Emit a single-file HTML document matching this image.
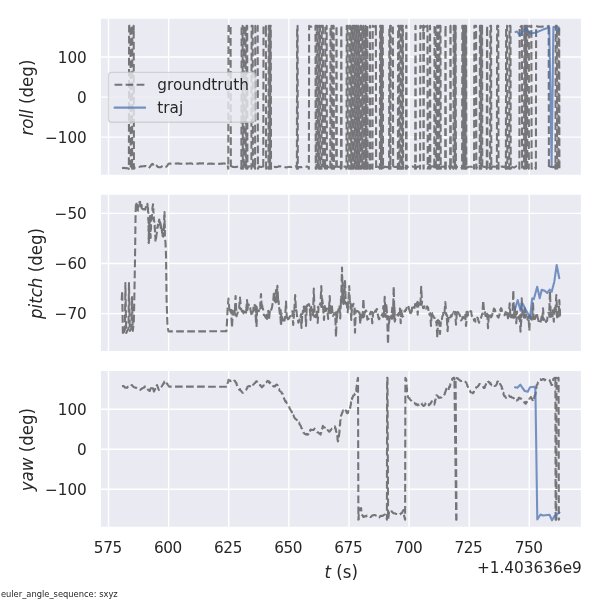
<!DOCTYPE html>
<html lang="en"><head><meta charset="utf-8"><title>evo rpy plot</title>
<style>html,body{margin:0;padding:0;background:#fff;overflow:hidden}svg{display:block;will-change:transform}text{font-family:'DejaVu Sans', 'Liberation Sans', sans-serif}</style></head><body>
<svg width="600" height="600" viewBox="0 0 432 432" version="1.1">
 
 <defs>
  <style type="text/css">*{stroke-linejoin: round; stroke-linecap: butt}</style>
 </defs>
 <g id="figure_1">
  <g id="patch_1">
   <path d="M 0 432 
L 432 432 
L 432 0 
L 0 0 
z
" style="fill: #ffffff"/>
  </g>
  <g id="axes_1">
   <g id="patch_2">
    <path d="M 72.0216 126.4824 
L 418.8744 126.4824 
L 418.8744 12.8376 
L 72.0216 12.8376 
z
" style="fill: #eaeaf2"/>
   </g>
   <g id="matplotlib.axis_1">
    <g id="xtick_1">
     <g id="line2d_1">
      <path d="M 78.119999 126.4824 
L 78.119999 12.8376 
" clip-path="url(#paa7fc9bcef)" style="fill: none; stroke: #ffffff; stroke-linecap: round"/>
     </g>
    </g>
    <g id="xtick_2">
     <g id="line2d_2">
      <path d="M 121.4028 126.4824 
L 121.4028 12.8376 
" clip-path="url(#paa7fc9bcef)" style="fill: none; stroke: #ffffff; stroke-linecap: round"/>
     </g>
    </g>
    <g id="xtick_3">
     <g id="line2d_3">
      <path d="M 164.6856 126.4824 
L 164.6856 12.8376 
" clip-path="url(#paa7fc9bcef)" style="fill: none; stroke: #ffffff; stroke-linecap: round"/>
     </g>
    </g>
    <g id="xtick_4">
     <g id="line2d_4">
      <path d="M 207.9684 126.4824 
L 207.9684 12.8376 
" clip-path="url(#paa7fc9bcef)" style="fill: none; stroke: #ffffff; stroke-linecap: round"/>
     </g>
    </g>
    <g id="xtick_5">
     <g id="line2d_5">
      <path d="M 251.2512 126.4824 
L 251.2512 12.8376 
" clip-path="url(#paa7fc9bcef)" style="fill: none; stroke: #ffffff; stroke-linecap: round"/>
     </g>
    </g>
    <g id="xtick_6">
     <g id="line2d_6">
      <path d="M 294.533999 126.4824 
L 294.533999 12.8376 
" clip-path="url(#paa7fc9bcef)" style="fill: none; stroke: #ffffff; stroke-linecap: round"/>
     </g>
    </g>
    <g id="xtick_7">
     <g id="line2d_7">
      <path d="M 337.8168 126.4824 
L 337.8168 12.8376 
" clip-path="url(#paa7fc9bcef)" style="fill: none; stroke: #ffffff; stroke-linecap: round"/>
     </g>
    </g>
    <g id="xtick_8">
     <g id="line2d_8">
      <path d="M 381.099599 126.4824 
L 381.099599 12.8376 
" clip-path="url(#paa7fc9bcef)" style="fill: none; stroke: #ffffff; stroke-linecap: round"/>
     </g>
    </g>
   </g>
   <g id="matplotlib.axis_2">
    <g id="ytick_1">
     <g id="line2d_9">
      <path d="M 72.0216 98.748 
L 418.8744 98.748 
" clip-path="url(#paa7fc9bcef)" style="fill: none; stroke: #ffffff; stroke-linecap: round"/>
     </g>
     <g id="text_1">
      <text style="font-size: 11px; font-family: 'DejaVu Sans', 'Liberation Sans', sans-serif; text-anchor: end; fill: #262626" x="62.5216" y="102.927141">−100</text>
     </g>
    </g>
    <g id="ytick_2">
     <g id="line2d_10">
      <path d="M 72.0216 69.912 
L 418.8744 69.912 
" clip-path="url(#paa7fc9bcef)" style="fill: none; stroke: #ffffff; stroke-linecap: round"/>
     </g>
     <g id="text_2">
      <text style="font-size: 11px; font-family: 'DejaVu Sans', 'Liberation Sans', sans-serif; text-anchor: end; fill: #262626" x="62.5216" y="74.091141">0</text>
     </g>
    </g>
    <g id="ytick_3">
     <g id="line2d_11">
      <path d="M 72.0216 41.076 
L 418.8744 41.076 
" clip-path="url(#paa7fc9bcef)" style="fill: none; stroke: #ffffff; stroke-linecap: round"/>
     </g>
     <g id="text_3">
      <text style="font-size: 11px; font-family: 'DejaVu Sans', 'Liberation Sans', sans-serif; text-anchor: end; fill: #262626" x="62.5216" y="45.255141">100</text>
     </g>
    </g>
    <g id="text_4">
     <g style="fill: #262626" transform="translate(24.5637 97.5840) rotate(-90) scale(1 1.060)">
      <text x="0" y="-0.875" style="font-size: 12px; font-family: 'DejaVu Sans', 'Liberation Sans', sans-serif; fill: #262626"><tspan style="font-style: oblique">roll</tspan> (deg)</text>
     </g>
    </g>
   </g>
   <g id="line2d_12">
    <path d="M 87.84 121.104 
L 89.28 120.816 
L 89.88 121.063545 
L 90.48 121.15552 
L 91.079999 120.999271 
L 91.68 121.102678 
L 92.28 121.252753 
L 92.7936 121.536 
L 92.9664 18.648 
L 93.9456 18.648 
L 93.9456 19.285899 
L 93.9456 18.648 
L 94.1184 121.536 
L 94.608 120.898329 
L 95.0976 121.536 
L 95.0976 118.399309 
L 95.0976 121.536 
L 95.2704 18.648 
L 96.249599 18.648 
L 96.249599 21.376599 
L 96.249599 18.648 
L 96.4224 121.536 
L 97.052968 120.760582 
L 97.769937 120.762229 
L 98.486905 120.619974 
L 99.203873 120.234518 
L 99.920842 120.220041 
L 100.63781 120.097115 
L 101.354778 119.766187 
L 102.071747 119.911215 
L 102.788715 119.695751 
L 103.505684 119.677042 
L 104.222652 119.534165 
L 104.939621 119.625081 
L 105.656589 120.030865 
L 106.373558 120.625325 
L 107.090526 121.12613 
L 107.807494 120.331728 
L 108.524463 119.23077 
L 109.241431 118.298096 
L 109.958399 117.988404 
L 110.675368 119.348518 
L 111.392336 119.243761 
L 112.109305 118.539026 
L 112.826273 119.246311 
L 113.543242 120.172985 
L 114.26021 120.329399 
L 114.977179 120.440966 
L 115.694147 120.396615 
L 116.411115 119.89665 
L 117.128084 119.274133 
L 117.845052 119.526276 
L 118.562021 120.187414 
L 119.278989 120.142683 
L 119.995957 119.845565 
L 120.712926 118.875 
L 121.429894 117.773721 
L 122.146863 117.947751 
L 122.863831 117.829261 
L 123.5808 117.698467 
L 124.297768 117.696086 
L 125.014737 117.772397 
L 125.731705 117.664737 
L 126.448673 117.662996 
L 127.165642 117.798063 
L 127.88261 117.613683 
L 128.599578 117.784909 
L 129.316547 117.73246 
L 130.033515 117.881721 
L 130.750484 117.898594 
L 131.467453 117.874552 
L 132.184421 117.873726 
L 132.901389 117.737395 
L 133.618358 117.864634 
L 134.335326 117.722815 
L 135.052294 117.823447 
L 135.769263 117.716749 
L 136.486231 117.768303 
L 137.203199 117.60258 
L 137.920168 117.680836 
L 138.637136 117.995732 
L 139.354105 117.675612 
L 140.071074 117.874718 
L 140.788042 117.857006 
L 141.50501 117.888742 
L 142.221979 117.781238 
L 142.938947 117.833759 
L 143.655915 117.604931 
L 144.372884 117.607347 
L 145.089852 117.661958 
L 145.806821 117.641604 
L 146.523789 117.619245 
L 147.240757 117.631855 
L 147.957726 117.815016 
L 148.674694 117.657136 
L 149.391663 117.987308 
L 150.108631 117.870456 
L 150.825599 117.80972 
L 151.542568 117.881502 
L 152.259537 117.689999 
L 152.976505 117.976345 
L 153.693473 117.938531 
L 154.410442 117.88977 
L 155.12741 117.783464 
L 155.844378 117.939789 
L 156.561347 117.897733 
L 157.278315 117.861261 
L 157.995284 117.970837 
L 158.712253 117.849744 
L 159.429221 117.734086 
L 160.146189 117.814829 
L 160.863158 117.660836 
L 161.580126 117.658975 
L 162.297094 117.889489 
L 163.014063 117.915093 
L 163.731031 117.995946 
L 164.361599 121.536 
L 164.361599 120.34308 
L 164.361599 121.536 
L 164.5344 18.648 
L 165.276 19.167694 
L 166.0176 18.648 
L 166.0176 19.177902 
L 166.0176 18.648 
L 166.1904 121.536 
L 166.810909 119.727557 
L 167.517818 120.148487 
L 168.224727 120.211578 
L 168.931636 120.204597 
L 169.638545 120.315426 
L 170.345454 120.155806 
L 171.052363 119.961465 
L 171.759272 119.739987 
L 172.466181 119.916968 
L 173.17309 119.735749 
L 173.7936 121.536 
L 173.7936 118.611581 
L 173.7936 121.536 
L 173.9664 18.648 
L 174.657599 18.648 
L 174.657599 20.350408 
L 174.657599 18.648 
L 174.8304 121.536 
L 175.14 119.697103 
L 175.4496 121.536 
L 175.4496 121.386469 
L 175.4496 121.536 
L 175.6224 18.648 
L 176.7456 18.648 
L 176.7456 22.233933 
L 176.7456 18.648 
L 176.9184 121.536 
L 177.321599 121.536 
L 177.321599 118.738921 
L 177.321599 121.536 
L 177.4944 18.648 
L 177.9696 18.648 
L 177.9696 22.067622 
L 177.9696 18.648 
L 178.1424 121.536 
L 178.6608 119.830743 
L 179.2656 119.760673 
L 179.870399 119.941872 
L 180.4752 120.091442 
L 180.993599 121.536 
L 180.993599 120.544887 
L 180.993599 121.536 
L 181.166399 18.648 
L 181.9296 18.648 
L 181.9296 21.431429 
L 181.9296 18.648 
L 182.1024 121.536 
L 182.592 119.7667 
L 183.167999 119.79484 
L 183.657599 121.536 
L 183.657599 120.291115 
L 183.657599 121.536 
L 183.8304 18.648 
L 184.68 19.166674 
L 185.5296 18.648 
L 185.5296 19.65884 
L 185.5296 18.648 
L 185.7024 121.536 
L 186.288 119.926094 
L 186.96 119.985269 
L 187.631999 120.168134 
L 188.304 120.239286 
L 188.976 119.982777 
L 189.561599 121.536 
L 189.561599 117.782724 
L 189.561599 121.536 
L 189.734399 18.648 
L 190.584 19.283083 
L 191.433599 18.648 
L 191.433599 21.348975 
L 191.433599 18.648 
L 191.6064 121.536 
L 192.144 120.076548 
L 192.768 119.809071 
L 193.305599 121.536 
L 193.305599 120.376899 
L 193.305599 121.536 
L 193.478399 18.648 
L 193.881599 18.648 
L 193.881599 20.083941 
L 193.881599 18.648 
L 194.054399 121.536 
L 194.4576 121.536 
L 194.4576 118.356122 
L 194.4576 121.536 
L 194.6304 18.648 
L 194.961599 18.648 
L 194.961599 18.955614 
L 194.961599 18.648 
L 195.134399 121.536 
L 195.743999 119.98053 
L 196.44 119.939134 
L 197.135999 120.23713 
L 197.831999 120.12265 
L 198.528 120.33717 
L 199.224 120.25746 
L 199.92 120.228956 
L 200.616 119.690216 
L 201.311999 119.777814 
L 202.007999 119.771553 
L 202.704 120.054942 
L 203.399999 120.002848 
L 204.096 120.141334 
L 204.792 120.256326 
L 205.487999 120.475237 
L 206.184 120.499779 
L 206.88 120.349886 
L 207.576 120.221639 
L 208.271999 120.102405 
L 208.967999 120.292553 
L 209.664 120.227982 
L 210.36 119.809801 
L 211.056 119.78209 
L 211.752 119.966921 
L 212.447999 119.892867 
L 213.144 119.59113 
L 213.7536 121.536 
L 213.7536 118.779634 
L 213.7536 121.536 
L 213.9264 18.648 
L 214.257599 18.648 
L 214.257599 19.449508 
L 214.257599 18.648 
L 214.430399 121.536 
L 215.022 120.204712 
L 215.699999 120.455041 
L 216.378 120.277685 
L 217.055999 120.462346 
L 217.734 120.196205 
L 218.412 120.164386 
L 219.09 119.793721 
L 219.768 120.023407 
L 220.446 119.988958 
L 221.124 119.870845 
L 221.802 120.190507 
L 222.3936 121.536 
L 222.3936 121.424518 
L 222.3936 121.536 
L 222.5664 18.648 
L 223.668 19.274602 
L 224.855999 18.988379 
L 226.044 18.992031 
L 227.145599 18.648 
L 227.145599 19.64538 
L 227.145599 18.648 
L 227.318399 121.536 
L 227.592 120.134539 
L 227.8656 121.536 
L 227.8656 118.695465 
L 227.8656 121.536 
L 228.038399 18.648 
L 228.729599 18.648 
L 228.729599 20.802039 
L 228.729599 18.648 
L 228.9024 121.536 
L 229.248 120.413561 
L 229.5936 121.536 
L 229.5936 120.829006 
L 229.5936 121.536 
L 229.7664 18.648 
L 230.4576 18.648 
L 230.4576 22.158685 
L 230.4576 18.648 
L 230.6304 121.536 
L 231.047999 120.010213 
L 231.4656 121.536 
L 231.4656 118.65708 
L 231.4656 121.536 
L 231.6384 18.648 
L 232.473599 18.648 
L 232.473599 21.25415 
L 232.473599 18.648 
L 232.646399 121.536 
L 233.088 120.345649 
L 233.616 120.152476 
L 234.0576 121.536 
L 234.0576 119.42117 
L 234.0576 121.536 
L 234.2304 18.648 
L 235.209599 18.648 
L 235.209599 20.800928 
L 235.209599 18.648 
L 235.3824 121.536 
L 235.944 119.976304 
L 236.592 120.171387 
L 237.24 119.966645 
L 237.8016 121.536 
L 237.8016 117.649086 
L 237.8016 121.536 
L 237.9744 18.648 
L 238.665599 18.648 
L 238.665599 21.012386 
L 238.665599 18.648 
L 238.838399 121.536 
L 239.184 120.135156 
L 239.529599 121.536 
L 239.529599 119.663806 
L 239.529599 121.536 
L 239.702399 18.648 
L 240.249599 18.648 
L 240.249599 18.764197 
L 240.249599 18.648 
L 240.4224 121.536 
L 240.935999 120.068655 
L 241.536 120.170608 
L 242.049599 121.536 
L 242.049599 120.993574 
L 242.049599 121.536 
L 242.222399 18.648 
L 242.3376 18.648 
L 242.3376 22.515305 
L 242.3376 18.648 
L 242.5104 121.536 
L 243.0576 120.011465 
L 243.6912 120.232966 
L 244.3248 119.949529 
L 244.9584 119.97674 
L 245.505599 121.536 
L 245.505599 119.344132 
L 245.505599 121.536 
L 245.6784 18.648 
L 245.7936 18.648 
L 245.7936 21.833723 
L 245.7936 18.648 
L 245.966399 121.536 
L 246.492 120.089967 
L 247.104 119.884162 
L 247.716 119.897955 
L 248.328 120.085269 
L 248.94 119.957109 
L 249.4656 121.536 
L 249.4656 121.470188 
L 249.4656 121.536 
L 249.6384 18.648 
L 250.185599 18.648 
L 250.185599 20.134861 
L 250.185599 18.648 
L 250.3584 121.536 
L 250.848 120.233608 
L 251.3376 121.536 
L 251.3376 120.653804 
L 251.3376 121.536 
L 251.510399 18.648 
L 252.1296 18.648 
L 252.1296 22.42851 
L 252.1296 18.648 
L 252.3024 121.536 
L 252.612 120.061914 
L 252.9216 121.536 
L 252.9216 120.834675 
L 252.9216 121.536 
L 253.094399 18.648 
L 253.713599 18.648 
L 253.713599 21.582672 
L 253.713599 18.648 
L 253.886399 121.536 
L 254.196 120.056355 
L 254.505599 121.536 
L 254.505599 119.666044 
L 254.505599 121.536 
L 254.6784 18.648 
L 255.297599 18.648 
L 255.297599 20.606795 
L 255.297599 18.648 
L 255.470399 121.536 
L 255.78 119.996672 
L 256.0896 121.536 
L 256.0896 120.072022 
L 256.0896 121.536 
L 256.2624 18.648 
L 256.8816 18.648 
L 256.8816 19.223946 
L 256.8816 18.648 
L 257.054399 121.536 
L 257.364 120.078198 
L 257.673599 121.536 
L 257.673599 118.993276 
L 257.673599 121.536 
L 257.846399 18.648 
L 258.4656 18.648 
L 258.4656 18.69759 
L 258.4656 18.648 
L 258.6384 121.536 
L 258.947999 119.966345 
L 259.257599 121.536 
L 259.257599 119.98819 
L 259.257599 121.536 
L 259.430399 18.648 
L 260.0496 18.648 
L 260.0496 22.44378 
L 260.0496 18.648 
L 260.2224 121.536 
L 260.532 120.170429 
L 260.841599 121.536 
L 260.841599 121.253211 
L 260.841599 121.536 
L 261.0144 18.648 
L 261.633599 18.648 
L 261.633599 21.687691 
L 261.633599 18.648 
L 261.806399 121.536 
L 262.115999 119.910703 
L 262.4256 121.536 
L 262.4256 121.290052 
L 262.4256 121.536 
L 262.5984 18.648 
L 263.217599 18.648 
L 263.217599 19.726848 
L 263.217599 18.648 
L 263.390399 121.536 
L 263.8656 121.536 
L 263.8656 119.460547 
L 263.8656 121.536 
L 264.038399 18.648 
L 264.441599 18.648 
L 264.441599 22.205369 
L 264.441599 18.648 
L 264.614399 121.536 
L 265.104 120.340705 
L 265.679999 120.334368 
L 266.1696 121.536 
L 266.1696 120.77003 
L 266.1696 121.536 
L 266.3424 18.648 
L 266.4576 18.648 
L 266.4576 19.934721 
L 266.4576 18.648 
L 266.6304 121.536 
L 267.119999 120.23502 
L 267.696 120.191467 
L 268.185599 121.536 
L 268.185599 120.206977 
L 268.185599 121.536 
L 268.358399 18.648 
L 269.496 19.280544 
L 270.6336 18.648 
L 270.6336 19.984478 
L 270.6336 18.648 
L 270.8064 121.536 
L 271.296 120.282043 
L 271.871999 119.943294 
L 272.447999 120.300604 
L 273.024 120.219071 
L 273.513599 121.536 
L 273.513599 118.180345 
L 273.513599 121.536 
L 273.6864 18.648 
L 274.1616 18.648 
L 274.1616 22.027883 
L 274.1616 18.648 
L 274.3344 121.536 
L 274.607999 120.219798 
L 274.881599 121.536 
L 274.881599 118.028509 
L 274.881599 121.536 
L 275.054399 18.648 
L 275.6016 18.648 
L 275.6016 21.87697 
L 275.6016 18.648 
L 275.7744 121.536 
L 276.335999 120.269521 
L 276.984 119.982648 
L 277.631999 120.154244 
L 278.28 120.312283 
L 278.927999 120.337573 
L 279.575999 120.033145 
L 280.137599 121.536 
L 280.137599 120.655357 
L 280.137599 121.536 
L 280.3104 18.648 
L 280.8576 18.648 
L 280.8576 19.559054 
L 280.8576 18.648 
L 281.0304 121.536 
L 281.145599 121.536 
L 281.145599 119.724373 
L 281.145599 121.536 
L 281.318399 18.648 
L 282.095999 19.096386 
L 282.8736 18.648 
L 282.8736 19.105867 
L 282.8736 18.648 
L 283.046399 121.536 
L 283.559999 120.253431 
L 284.16 120.124629 
L 284.759999 120.26426 
L 285.36 120.153704 
L 285.96 120.164844 
L 286.473599 121.536 
L 286.473599 119.056107 
L 286.473599 121.536 
L 286.646399 18.648 
L 287.3376 18.648 
L 287.3376 20.662914 
L 287.3376 18.648 
L 287.510399 121.536 
L 287.855999 120.340867 
L 288.2016 121.536 
L 288.2016 119.705136 
L 288.2016 121.536 
L 288.3744 18.648 
L 289.065599 18.648 
L 289.065599 21.658361 
L 289.065599 18.648 
L 289.2384 121.536 
L 289.6416 121.536 
L 289.6416 119.754572 
L 289.6416 121.536 
L 289.8144 18.648 
L 290.073599 18.648 
L 290.073599 19.138334 
L 290.073599 18.648 
L 290.246399 121.536 
L 290.717999 120.322183 
L 291.276 120.291885 
L 291.834 120.132289 
L 292.3056 121.536 
L 292.3056 120.983345 
L 292.3056 121.536 
L 292.4784 18.648 
L 292.593599 18.648 
L 292.593599 19.250578 
L 292.593599 18.648 
L 292.766399 121.536 
L 293.384 119.947811 
L 294.087999 120.220354 
L 294.791999 119.958913 
L 295.496 120.107657 
L 296.199999 119.924621 
L 296.904 119.89446 
L 297.607999 120.11902 
L 298.311999 120.06108 
L 298.9296 121.536 
L 298.9296 117.562297 
L 298.9296 121.536 
L 299.1024 18.648 
L 299.217599 18.648 
L 299.217599 22.375661 
L 299.217599 18.648 
L 299.390399 121.536 
L 299.952 120.174129 
L 300.599999 120.250521 
L 301.247999 119.855843 
L 301.895999 120.085724 
L 302.457599 121.536 
L 302.457599 119.861863 
L 302.457599 121.536 
L 302.630399 18.648 
L 303.696 19.206231 
L 304.7616 18.648 
L 304.7616 22.142421 
L 304.7616 18.648 
L 304.9344 121.536 
L 305.0496 121.536 
L 305.0496 118.013468 
L 305.0496 121.536 
L 305.2224 18.648 
L 306.503999 19.172652 
L 307.7856 18.648 
L 307.7856 20.801525 
L 307.7856 18.648 
L 307.958399 121.536 
L 308.4 119.943269 
L 308.927999 119.973829 
L 309.3696 121.536 
L 309.3696 117.977604 
L 309.3696 121.536 
L 309.542399 18.648 
L 309.657599 18.648 
L 309.657599 22.247239 
L 309.657599 18.648 
L 309.8304 121.536 
L 310.348799 119.767174 
L 310.953599 119.909056 
L 311.558399 119.760538 
L 312.163199 119.769902 
L 312.6816 121.536 
L 312.6816 118.310463 
L 312.6816 121.536 
L 312.8544 18.648 
L 313.617599 18.648 
L 313.617599 22.599368 
L 313.617599 18.648 
L 313.7904 121.536 
L 314.171999 119.783867 
L 314.5536 121.536 
L 314.5536 121.181696 
L 314.5536 121.536 
L 314.7264 18.648 
L 315.4176 18.648 
L 315.4176 19.15875 
L 315.4176 18.648 
L 315.5904 121.536 
L 315.935999 120.028591 
L 316.2816 121.536 
L 316.2816 119.619409 
L 316.2816 121.536 
L 316.4544 18.648 
L 317.145599 18.648 
L 317.145599 21.974191 
L 317.145599 18.648 
L 317.318399 121.536 
L 317.908799 119.853146 
L 318.585599 120.015432 
L 319.262399 119.943831 
L 319.939199 119.985812 
L 320.529599 121.536 
L 320.529599 120.404249 
L 320.529599 121.536 
L 320.702399 18.648 
L 320.8176 18.648 
L 320.8176 21.615784 
L 320.8176 18.648 
L 320.9904 121.536 
L 321.566399 120.148481 
L 322.228799 120.086971 
L 322.8912 119.828417 
L 323.553599 120.008732 
L 324.129599 121.536 
L 324.129599 119.8398 
L 324.129599 121.536 
L 324.3024 18.648 
L 324.4176 18.648 
L 324.4176 19.823899 
L 324.4176 18.648 
L 324.5904 121.536 
L 325.2 119.825192 
L 325.895999 119.946418 
L 326.505599 121.536 
L 326.505599 121.458718 
L 326.505599 121.536 
L 326.6784 18.648 
L 327.225599 18.648 
L 327.225599 19.647434 
L 327.225599 18.648 
L 327.398399 121.536 
L 327.657599 121.536 
L 327.657599 121.29005 
L 327.657599 121.536 
L 327.8304 18.648 
L 328.089599 18.648 
L 328.089599 21.392976 
L 328.089599 18.648 
L 328.2624 121.536 
L 328.834285 120.187133 
L 329.492571 120.123261 
L 330.150856 120.202611 
L 330.809142 120.135445 
L 331.467428 120.314279 
L 332.125714 120.069074 
L 332.697599 121.536 
L 332.697599 121.051817 
L 332.697599 121.536 
L 332.870399 18.648 
L 333.4176 18.648 
L 333.4176 20.969868 
L 333.4176 18.648 
L 333.590399 121.536 
L 333.863999 119.970337 
L 334.137599 121.536 
L 334.137599 121.367623 
L 334.137599 121.536 
L 334.3104 18.648 
L 334.857599 18.648 
L 334.857599 21.137109 
L 334.857599 18.648 
L 335.030399 121.536 
L 335.145599 121.536 
L 335.145599 120.452263 
L 335.145599 121.536 
L 335.318399 18.648 
L 335.5776 18.648 
L 335.5776 22.346726 
L 335.5776 18.648 
L 335.750399 121.536 
L 336.303999 120.413793 
L 336.944 120.408236 
L 337.584 120.070137 
L 338.224 120.039045 
L 338.863999 120.069945 
L 339.504 120.092547 
L 340.144 120.314451 
L 340.783999 120.227212 
L 341.337599 121.536 
L 341.337599 120.133941 
L 341.337599 121.536 
L 341.510399 18.648 
L 342.777599 18.648 
L 342.777599 19.216537 
L 342.777599 18.648 
L 342.950399 121.536 
L 343.512 119.958732 
L 344.159999 120.116748 
L 344.807999 120.370101 
L 345.369599 121.536 
L 345.369599 119.332518 
L 345.369599 121.536 
L 345.542399 18.648 
L 346.0896 18.648 
L 346.0896 19.015585 
L 346.0896 18.648 
L 346.2624 121.536 
L 346.521599 121.536 
L 346.521599 118.853466 
L 346.521599 121.536 
L 346.694399 18.648 
L 347.0976 18.648 
L 347.0976 21.054657 
L 347.0976 18.648 
L 347.2704 121.536 
L 347.860799 119.982728 
L 348.5376 120.286475 
L 349.214399 120.06304 
L 349.8912 120.138333 
L 350.481599 121.536 
L 350.481599 119.859412 
L 350.481599 121.536 
L 350.654399 18.648 
L 350.769599 18.648 
L 350.769599 22.150694 
L 350.769599 18.648 
L 350.9424 121.536 
L 351.552 119.990364 
L 352.248 119.98838 
L 352.857599 121.536 
L 352.857599 117.933084 
L 352.857599 121.536 
L 353.030399 18.648 
L 353.5776 18.648 
L 353.5776 22.398623 
L 353.5776 18.648 
L 353.7504 121.536 
L 354.36 119.820804 
L 355.055999 120.08719 
L 355.751999 119.866076 
L 356.447999 120.043986 
L 357.144 120.041739 
L 357.7536 121.536 
L 357.7536 119.105348 
L 357.7536 121.536 
L 357.9264 18.648 
L 358.7616 18.648 
L 358.7616 19.470802 
L 358.7616 18.648 
L 358.9344 121.536 
L 359.532 119.868398 
L 360.215999 120.072469 
L 360.9 119.945713 
L 361.584 119.875784 
L 362.267999 120.232914 
L 362.951999 119.879412 
L 363.636 120.288641 
L 364.2336 121.536 
L 364.2336 119.772106 
L 364.2336 121.536 
L 364.406399 18.648 
L 365.0976 18.648 
L 365.0976 19.166459 
L 365.0976 18.648 
L 365.2704 121.536 
L 365.711999 120.167508 
L 366.24 120.449871 
L 366.6816 121.536 
L 366.6816 118.993742 
L 366.6816 121.536 
L 366.8544 18.648 
L 367.545599 18.648 
L 367.545599 21.993328 
L 367.545599 18.648 
L 367.7184 121.536 
L 368.343999 120.434648 
L 369.055999 120.336763 
L 369.768 120.586487 
L 370.48 120.535887 
L 371.191999 120.147126 
L 371.903999 119.429984 
L 372.616 119.004823 
L 373.328 119.127142 
L 373.953599 121.536 
L 373.953599 118.105454 
L 373.953599 121.536 
L 374.1264 18.648 
L 374.94 19.164471 
L 375.753599 18.648 
L 375.753599 20.897593 
L 375.753599 18.648 
L 375.926399 121.536 
L 376.368 120.09355 
L 376.895999 120.108098 
L 377.337599 121.536 
L 377.337599 120.529858 
L 377.337599 121.536 
L 377.510399 18.648 
L 378.057599 18.648 
L 378.057599 20.183691 
L 378.057599 18.648 
L 378.230399 121.536 
L 378.503999 120.201998 
L 378.777599 121.536 
L 378.777599 120.045165 
L 378.777599 121.536 
L 378.950399 18.648 
L 379.497599 18.648 
L 379.497599 19.733609 
L 379.497599 18.648 
L 379.670399 121.536 
L 380.231999 120.063218 
L 380.7936 121.536 
L 380.7936 121.123813 
L 380.7936 121.536 
L 380.9664 18.648 
L 381.78 19.286463 
L 382.593599 18.648 
L 382.593599 19.534303 
L 382.593599 18.648 
L 382.766399 121.536 
L 383.327999 120.19883 
L 383.975999 120.309437 
L 384.624 120.279517 
L 385.271999 120.11727 
L 385.8336 121.536 
L 385.8336 118.119356 
L 385.8336 121.536 
L 386.0064 18.648 
L 387.455999 19.196033 
L 388.992 19.218349 
L 390.527999 19.161706 
L 392.064 19.094932 
L 393.599999 19.135954 
L 395.0496 18.648 
L 395.0496 21.646833 
L 395.0496 18.648 
L 395.222399 121.536 
L 395.835428 120.069792 
L 396.534857 120.012912 
L 397.234285 120.244595 
L 397.933713 120.377423 
L 398.633142 120.037318 
L 399.332571 119.987974 
L 399.945599 121.536 
L 399.945599 118.468914 
L 399.945599 121.536 
L 400.1184 18.648 
L 400.953599 18.648 
L 400.953599 19.050701 
L 400.953599 18.648 
L 401.1264 121.536 
L 401.544 120.214432 
L 401.961599 121.536 
L 401.961599 118.034652 
L 401.961599 121.536 
L 402.134399 18.648 
L 402.609599 18.648 
L 402.782399 121.536 
L 403.055999 120.96 
" clip-path="url(#paa7fc9bcef)" style="fill: none; stroke-dasharray: 5.55,2.4; stroke-dashoffset: 0; stroke: #000000; stroke-opacity: 0.5; stroke-width: 1.5"/>
   </g>
   <g id="line2d_13">
    <path d="M 371.159999 23.04 
L 372.239999 22.68 
L 374.399999 25.632 
L 376.199999 23.184 
L 378.719999 20.592 
L 380.52 22.32 
L 382.319999 24.192 
L 385.92 23.4 
L 390.96 21.312 
L 395.495999 19.728 
L 397.151999 119.376 
L 398.447999 19.44 
L 400.32 19.872 
L 402.624 22.032 
" clip-path="url(#paa7fc9bcef)" style="fill: none; stroke: #4c72b0; stroke-opacity: 0.75; stroke-width: 1.5; stroke-linecap: round"/>
   </g>
   <g id="patch_3">
    <path d="M 72.0216 126.4824 
L 72.0216 12.8376 
" style="fill: none; stroke: #ffffff; stroke-width: 1.25; stroke-linejoin: miter; stroke-linecap: square"/>
   </g>
   <g id="patch_4">
    <path d="M 418.8744 126.4824 
L 418.8744 12.8376 
" style="fill: none; stroke: #ffffff; stroke-width: 1.25; stroke-linejoin: miter; stroke-linecap: square"/>
   </g>
   <g id="patch_5">
    <path d="M 72.0216 126.4824 
L 418.8744 126.4824 
" style="fill: none; stroke: #ffffff; stroke-width: 1.25; stroke-linejoin: miter; stroke-linecap: square"/>
   </g>
   <g id="patch_6">
    <path d="M 72.0216 12.8376 
L 418.8744 12.8376 
" style="fill: none; stroke: #ffffff; stroke-width: 1.25; stroke-linejoin: miter; stroke-linecap: square"/>
   </g>
   <g id="legend_1">
    <g id="patch_7">
     <path d="M 80.284 88.043823 
L 181.487438 88.043823 
Q 183.687438 88.043823 183.687438 85.843823 
L 183.687438 54.292 
Q 183.687438 52.092 181.487438 52.092 
L 80.284 52.092 
Q 78.084 52.092 78.084 54.292 
L 78.084 85.843823 
Q 78.084 88.043823 80.284 88.043823 
z
" style="fill: #eaeaf2; opacity: 0.8; stroke: #cccccc; stroke-linejoin: miter"/>
    </g>
    <g id="line2d_14">
     <path d="M 82.484 61.000281 
L 93.484 61.000281 
L 104.484 61.000281 
" style="fill: none; stroke-dasharray: 5.55,2.4; stroke-dashoffset: 0; stroke: #000000; stroke-opacity: 0.5; stroke-width: 1.5"/>
    </g>
    <g id="text_5">
     <text style="font-size: 11px; font-family: 'DejaVu Sans', 'Liberation Sans', sans-serif; text-anchor: start; fill: #262626" x="113.284" y="64.850281">groundtruth</text>
    </g>
    <g id="line2d_15">
     <path d="M 82.484 77.506166 
L 93.484 77.506166 
L 104.484 77.506166 
" style="fill: none; stroke: #4c72b0; stroke-opacity: 0.75; stroke-width: 1.5; stroke-linecap: round"/>
    </g>
    <g id="text_6">
     <text style="font-size: 11px; font-family: 'DejaVu Sans', 'Liberation Sans', sans-serif; text-anchor: start; fill: #262626" x="113.284" y="81.356166">traj</text>
    </g>
   </g>
  </g>
  <g id="axes_2">
   <g id="patch_8">
    <path d="M 72.0216 253.3464 
L 418.8744 253.3464 
L 418.8744 139.6296 
L 72.0216 139.6296 
z
" style="fill: #eaeaf2"/>
   </g>
   <g id="matplotlib.axis_3">
    <g id="xtick_9">
     <g id="line2d_16">
      <path d="M 78.119999 253.3464 
L 78.119999 139.6296 
" clip-path="url(#p0d70362a3d)" style="fill: none; stroke: #ffffff; stroke-linecap: round"/>
     </g>
    </g>
    <g id="xtick_10">
     <g id="line2d_17">
      <path d="M 121.4028 253.3464 
L 121.4028 139.6296 
" clip-path="url(#p0d70362a3d)" style="fill: none; stroke: #ffffff; stroke-linecap: round"/>
     </g>
    </g>
    <g id="xtick_11">
     <g id="line2d_18">
      <path d="M 164.6856 253.3464 
L 164.6856 139.6296 
" clip-path="url(#p0d70362a3d)" style="fill: none; stroke: #ffffff; stroke-linecap: round"/>
     </g>
    </g>
    <g id="xtick_12">
     <g id="line2d_19">
      <path d="M 207.9684 253.3464 
L 207.9684 139.6296 
" clip-path="url(#p0d70362a3d)" style="fill: none; stroke: #ffffff; stroke-linecap: round"/>
     </g>
    </g>
    <g id="xtick_13">
     <g id="line2d_20">
      <path d="M 251.2512 253.3464 
L 251.2512 139.6296 
" clip-path="url(#p0d70362a3d)" style="fill: none; stroke: #ffffff; stroke-linecap: round"/>
     </g>
    </g>
    <g id="xtick_14">
     <g id="line2d_21">
      <path d="M 294.533999 253.3464 
L 294.533999 139.6296 
" clip-path="url(#p0d70362a3d)" style="fill: none; stroke: #ffffff; stroke-linecap: round"/>
     </g>
    </g>
    <g id="xtick_15">
     <g id="line2d_22">
      <path d="M 337.8168 253.3464 
L 337.8168 139.6296 
" clip-path="url(#p0d70362a3d)" style="fill: none; stroke: #ffffff; stroke-linecap: round"/>
     </g>
    </g>
    <g id="xtick_16">
     <g id="line2d_23">
      <path d="M 381.099599 253.3464 
L 381.099599 139.6296 
" clip-path="url(#p0d70362a3d)" style="fill: none; stroke: #ffffff; stroke-linecap: round"/>
     </g>
    </g>
   </g>
   <g id="matplotlib.axis_4">
    <g id="ytick_4">
     <g id="line2d_24">
      <path d="M 72.0216 225.792 
L 418.8744 225.792 
" clip-path="url(#p0d70362a3d)" style="fill: none; stroke: #ffffff; stroke-linecap: round"/>
     </g>
     <g id="text_7">
      <text style="font-size: 11px; font-family: 'DejaVu Sans', 'Liberation Sans', sans-serif; text-anchor: end; fill: #262626" x="62.5216" y="229.971141">−70</text>
     </g>
    </g>
    <g id="ytick_5">
     <g id="line2d_25">
      <path d="M 72.0216 189.72 
L 418.8744 189.72 
" clip-path="url(#p0d70362a3d)" style="fill: none; stroke: #ffffff; stroke-linecap: round"/>
     </g>
     <g id="text_8">
      <text style="font-size: 11px; font-family: 'DejaVu Sans', 'Liberation Sans', sans-serif; text-anchor: end; fill: #262626" x="62.5216" y="193.899141">−60</text>
     </g>
    </g>
    <g id="ytick_6">
     <g id="line2d_26">
      <path d="M 72.0216 153.648 
L 418.8744 153.648 
" clip-path="url(#p0d70362a3d)" style="fill: none; stroke: #ffffff; stroke-linecap: round"/>
     </g>
     <g id="text_9">
      <text style="font-size: 11px; font-family: 'DejaVu Sans', 'Liberation Sans', sans-serif; text-anchor: end; fill: #262626" x="62.5216" y="157.827141">−50</text>
     </g>
    </g>
    <g id="text_10">
     <g style="fill: #262626" transform="translate(31.2744 229.7280) rotate(-90) scale(1 1.060)">
      <text x="0" y="-0.875" style="font-size: 12px; font-family: 'DejaVu Sans', 'Liberation Sans', sans-serif; fill: #262626"><tspan style="font-style: oblique">pitch</tspan> (deg)</text>
     </g>
    </g>
   </g>
   <g id="line2d_27">
    <path d="M 87.624 216 
L 87.984 209.52 
L 88.488 241.2 
L 89.423999 238.32 
L 89.928 237.6 
L 90.288 203.76 
L 90.863999 239.76 
L 91.872 237.6 
L 92.52 236.88 
L 92.88 203.76 
L 93.456 238.32 
L 94.32 236.88 
L 94.68 236.16 
L 95.039999 213.84 
L 95.616 238.32 
L 96.335999 231.84 
L 96.696 216 
L 97.2 187.2 
L 97.632 153.36 
L 97.92 145.44 
L 98.186312 146.169361 
L 98.28653 147.089359 
L 98.285728 146.953922 
L 98.484186 147.276051 
L 98.321982 148.609437 
L 98.609669 148.888406 
L 98.73795 150.787525 
L 98.584437 150.830541 
L 98.626871 151.151238 
L 98.737715 152.708793 
L 99 152.64 
L 99.079869 152.63118 
L 99.308784 151.780202 
L 99.19091 149.806719 
L 99.447696 149.234068 
L 99.598302 148.894975 
L 99.62719 149.013113 
L 99.72 147.6 
L 99.90781 146.295378 
L 99.95696 146.303601 
L 100.268785 145.765975 
L 100.44 144.864 
L 100.395471 145.854533 
L 100.633827 146.070064 
L 100.936076 145.989494 
L 100.872403 145.260406 
L 100.849059 146.163359 
L 100.896638 146.591729 
L 101.152523 147.637415 
L 101.115715 147.156549 
L 101.153139 146.283117 
L 101.274269 146.537741 
L 101.158074 147.813387 
L 101.227732 148.572503 
L 101.308818 147.864094 
L 101.52 148.32 
L 101.915234 147.585368 
L 102.022755 148.025773 
L 102.015583 149.444412 
L 102.036197 150.077098 
L 102.24 149.4 
L 102.412909 149.781721 
L 102.927286 149.094822 
L 103.135237 149.723643 
L 103.058428 150.786944 
L 103.32 150.48 
L 103.740844 150.525703 
L 103.933745 150.698725 
L 104.4 150.84 
L 104.508344 150.427932 
L 104.660292 150.898563 
L 104.859451 149.626254 
L 104.95957 149.331444 
L 105.043288 148.884017 
L 105.154452 148.701262 
L 105.382378 148.381289 
L 105.48 148.32 
L 105.609273 148.465323 
L 105.736677 148.536399 
L 105.796962 147.795538 
L 106.056 146.88 
L 106.070054 147.070549 
L 106.188376 147.652776 
L 106.151359 146.811288 
L 106.12585 146.972 
L 106.252547 148.030732 
L 106.077214 148.802445 
L 106.274764 149.131954 
L 106.471968 149.461434 
L 106.189126 148.959597 
L 106.425334 149.149717 
L 106.602887 149.683116 
L 106.688384 150.32941 
L 106.601389 151.145391 
L 106.601424 150.416234 
L 106.640931 149.990079 
L 106.56 151.2 
L 106.556822 152.034268 
L 106.79956 153.211847 
L 106.767247 152.702104 
L 106.825416 153.676799 
L 106.848 154.8 
L 106.941023 156.07545 
L 106.871884 156.26469 
L 106.719295 156.814446 
L 106.751668 157.582758 
L 106.845366 158.475742 
L 106.741214 158.083887 
L 106.97928 159.37547 
L 106.948113 160.547013 
L 106.927198 161.144172 
L 106.944591 161.979151 
L 107.010287 161.397132 
L 106.910723 163.183258 
L 106.914876 162.76161 
L 106.968208 163.734682 
L 107.030169 164.454677 
L 106.910577 165.066517 
L 106.976787 166.49292 
L 107.187887 166.701539 
L 106.874462 167.525199 
L 107.098133 168.322872 
L 106.988179 167.75804 
L 107.092643 168.511536 
L 107.155108 170.223786 
L 107.038073 171.110717 
L 106.962819 171.759121 
L 107.077124 172.124969 
L 107.189854 173.120946 
L 107.278509 172.280537 
L 106.943169 173.727927 
L 106.958905 174.559133 
L 107.136 174.96 
L 107.167347 174.566437 
L 107.152447 173.284812 
L 107.354228 173.349405 
L 107.033407 171.69577 
L 107.277322 171.337294 
L 107.215439 171.461597 
L 107.21497 171.032742 
L 107.365623 169.783121 
L 107.19019 168.900271 
L 107.418463 169.163509 
L 107.189123 167.150144 
L 107.447807 167.600014 
L 107.232132 166.935711 
L 107.50218 166.054664 
L 107.360112 165.011283 
L 107.388402 164.981037 
L 107.3935 163.503307 
L 107.630791 163.792216 
L 107.661592 162.956723 
L 107.362941 161.164176 
L 107.550984 161.718978 
L 107.687528 160.71416 
L 107.567999 159.84 
L 107.80409 158.568587 
L 107.611769 158.134672 
L 107.696449 157.382533 
L 107.71864 156.762539 
L 107.758718 156.299846 
L 108 155.52 
L 108.175498 156.093078 
L 108.074695 157.017111 
L 108.201016 157.871478 
L 108.176935 157.899985 
L 108.221687 158.321371 
L 108.056873 159.856124 
L 108.045044 160.751637 
L 108.249835 160.269547 
L 108.038068 160.751057 
L 108.279139 161.865332 
L 108.126568 162.416259 
L 108.044362 163.371792 
L 108.099498 164.200035 
L 108.102995 164.778037 
L 108.386397 165.216985 
L 108.403519 165.378614 
L 108.272569 166.898079 
L 108.436231 168.073493 
L 108.288926 168.471026 
L 108.471325 169.094616 
L 108.478424 170.075208 
L 108.323436 170.293272 
L 108.229745 170.600245 
L 108.36 171.36 
L 108.519496 170.81772 
L 108.335988 169.433267 
L 108.346544 168.772142 
L 108.37493 168.517129 
L 108.333905 168.573441 
L 108.491525 167.47902 
L 108.602854 166.126114 
L 108.431313 165.499024 
L 108.784271 164.752014 
L 108.609079 165.307945 
L 108.694954 163.285004 
L 108.83224 163.201105 
L 108.72 162.72 
L 108.672382 161.742093 
L 108.897893 160.547788 
L 108.987591 160.734409 
L 108.910366 159.722812 
L 108.969665 158.361786 
L 109.182211 158.313446 
L 109.34714 157.203304 
L 109.296 156.96 
L 109.322615 156.565248 
L 109.2366 155.410853 
L 109.506972 154.576194 
L 109.439032 154.442544 
L 109.503396 154.256822 
L 109.713557 153.529019 
L 109.605457 151.849166 
L 109.72999 151.566197 
L 109.73009 151.259266 
L 109.934379 150.848268 
L 109.688357 150.34542 
L 109.871999 149.04 
L 110.031744 148.08197 
L 110.146797 147.656343 
L 110.16 147.024 
L 110.217971 147.78577 
L 110.106535 148.10138 
L 110.244864 148.267437 
L 110.384543 149.341659 
L 110.331666 150.973724 
L 110.508468 150.552584 
L 110.376098 151.672835 
L 110.311013 152.677156 
L 110.42055 152.247156 
L 110.594592 153.527615 
L 110.385756 154.251449 
L 110.592 154.8 
L 110.748829 154.777172 
L 110.77216 155.844225 
L 110.753842 156.282313 
L 110.850459 158.375105 
L 110.830305 157.708643 
L 111.087647 159.828988 
L 111.024 159.84 
L 111.092785 161.207079 
L 111.31511 161.651478 
L 111.359277 161.464615 
L 111.436394 162.586377 
L 111.307207 163.53799 
L 111.584697 164.054139 
L 111.375997 164.543049 
L 111.6 165.6 
L 111.550404 166.576745 
L 111.819208 167.008664 
L 111.594377 167.915604 
L 111.583951 167.564082 
L 111.792104 168.726269 
L 111.748444 168.912881 
L 111.786533 170.42044 
L 111.995242 170.158931 
L 111.855259 171.560578 
L 111.921974 172.805581 
L 111.903907 173.025738 
L 111.933227 174.044949 
L 111.96 174.24 
L 112.202497 173.239095 
L 112.232783 173.045133 
L 112.202384 172.560738 
L 112.414219 171.347127 
L 112.465892 171.35112 
L 112.535999 169.92 
L 112.694461 169.413668 
L 112.70903 168.926537 
L 112.994058 167.458234 
L 112.905508 167.314343 
L 112.999987 165.657435 
L 113.184 165.6 
L 113.163144 165.154744 
L 113.367065 164.847341 
L 113.197275 164.159508 
L 113.312793 163.700165 
L 113.30358 163.603934 
L 113.453323 164.07337 
L 113.6267 163.131587 
L 113.553827 163.361004 
L 113.755424 162.763013 
L 113.772172 163.011713 
L 113.546636 162.505548 
L 113.76 161.28 
L 113.769562 160.864161 
L 114.046834 161.060526 
L 113.902973 160.565756 
L 113.964931 159.510691 
L 114.322618 159.313432 
L 114.335947 159.645684 
L 114.505641 159.360227 
L 114.48 158.4 
L 114.422571 158.576272 
L 114.706728 158.095871 
L 114.704539 159.22426 
L 114.854919 159.728304 
L 115.078243 160.857929 
L 114.946133 159.578912 
L 115.2 160.56 
L 115.329297 160.07322 
L 115.287942 160.889672 
L 115.244668 161.452483 
L 115.297028 162.290258 
L 115.502215 161.663527 
L 115.616511 160.925585 
L 115.76766 162.123873 
L 115.753489 162.644237 
L 115.571752 163.044176 
L 115.80305 162.199892 
L 115.80258 163.472097 
L 115.584876 163.947919 
L 115.923306 162.743116 
L 116.033923 163.27139 
L 115.826951 164.305111 
L 115.92 164.16 
L 116.164324 163.755706 
L 116.128648 163.899363 
L 116.219388 165.589253 
L 116.297897 164.467507 
L 116.23279 165.096654 
L 116.630833 164.911141 
L 116.479827 166.346863 
L 116.64 166.32 
L 116.534957 166.361165 
L 116.626904 166.232416 
L 116.684348 167.456955 
L 116.99881 167.591931 
L 116.868445 167.731447 
L 116.977458 168.014039 
L 117.104524 169.495284 
L 117.32132 168.244653 
L 117.039402 169.131103 
L 117.039808 169.961795 
L 117.44158 169.464622 
L 117.36 169.92 
L 117.505719 170.403723 
L 117.495461 170.058533 
L 117.468574 169.715386 
L 117.332605 168.313755 
L 117.471799 167.605937 
L 117.747857 167.038132 
L 117.710122 166.772367 
L 117.645881 167.211301 
L 117.629305 167.088416 
L 117.804596 166.258469 
L 117.925351 165.537106 
L 117.777303 165.624793 
L 117.935999 165.6 
L 117.98332 164.688902 
L 118.05149 163.809305 
L 117.940605 163.055555 
L 118.087448 163.070808 
L 118.022211 161.932742 
L 118.189329 161.548 
L 118.235627 160.702521 
L 118.15821 160.792171 
L 118.011338 159.264407 
L 118.247276 158.469634 
L 118.165806 157.811192 
L 118.362149 158.354956 
L 118.120454 157.719975 
L 118.327507 155.907779 
L 118.176084 156.104682 
L 118.356172 154.984295 
L 118.169634 154.575874 
L 118.419837 153.969455 
L 118.236383 152.978077 
L 118.368 152.64 
L 118.474501 153.242365 
L 118.491179 153.456036 
L 118.476112 155.108383 
L 118.562871 154.979011 
L 118.585607 156.098799 
L 118.376976 155.884728 
L 118.524204 158.00416 
L 118.505589 157.640569 
L 118.431329 158.606763 
L 118.680689 159.17614 
L 118.479702 159.942114 
L 118.433971 160.283925 
L 118.659629 161.902315 
L 118.515126 161.916258 
L 118.720955 162.947284 
L 118.574331 163.999506 
L 118.742149 163.87912 
L 118.506861 165.135391 
L 118.774221 165.540071 
L 118.754863 165.170434 
L 118.702193 167.083244 
L 118.595523 166.715647 
L 118.827026 168.37338 
L 118.649266 168.713799 
L 118.616204 168.988186 
L 118.728 169.92 
L 119.159999 174.96 
L 119.52 183.6 
L 119.952 216 
L 120.599999 234.72 
L 121.319999 238.608 
L 163.008 238.536 
L 163.44 231.84 
L 163.944 220.977355 
L 164.52 214.92 
L 165.096 222.803686 
L 164.435535 222.938473 
L 164.876662 222.074581 
L 165.316581 222.17185 
L 165.541478 221.960873 
L 165.839253 224.279257 
L 166.303097 223.102074 
L 166.789421 223.572008 
L 166.464 224.110554 
L 167.039999 235.8 
L 167.616 223.777924 
L 167.077091 224.576759 
L 167.42878 223.836734 
L 167.697989 224.001159 
L 168.070338 223.946823 
L 168.383696 226.5632 
L 168.972545 224.688539 
L 169.063 225.04255 
L 169.617555 226.969747 
L 169.056 224.901533 
L 169.631999 213.12 
L 170.208 226.463208 
L 169.776473 226.534987 
L 170.320261 227.664273 
L 170.57062 226.451589 
L 171.106699 225.590125 
L 171.216637 223.434104 
L 171.858663 222.675509 
L 172.170354 222.850784 
L 172.518005 222.437578 
L 172.224 220.914355 
L 172.8 214.2 
L 173.375999 221.075987 
L 172.688098 221.539705 
L 173.293895 222.370948 
L 173.611197 222.266034 
L 173.918983 223.358068 
L 174.362885 224.361627 
L 174.693545 222.7776 
L 174.919981 223.152365 
L 175.333351 225.653701 
L 175.550729 224.123537 
L 176.001257 224.460128 
L 176.484985 224.643618 
L 176.799996 224.621462 
L 177.144047 225.156716 
L 177.607739 222.106837 
L 177.263999 223.447176 
L 177.84 216 
L 178.416 222.046538 
L 177.725038 222.151773 
L 178.202981 223.058097 
L 178.522995 219.667222 
L 179.023595 219.225199 
L 179.273761 221.245264 
L 179.644244 220.70969 
L 180.086537 220.769806 
L 180.380914 223.130527 
L 180.859719 225.788506 
L 180.951541 225.928633 
L 181.426296 227.611323 
L 181.75163 224.965825 
L 182.281383 223.937061 
L 182.493413 221.982058 
L 182.831112 218.785326 
L 183.247694 219.512809 
L 183.713179 220.169512 
L 184.03774 220.089416 
L 183.743999 221.15133 
L 184.32 231.84 
L 184.896 221.127412 
L 184.396991 221.895389 
L 184.104 221.404481 
L 184.68 235.44 
L 185.256 220.586215 
L 184.605016 220.975918 
L 185.000716 223.833597 
L 185.273307 224.018518 
L 185.850193 223.936284 
L 185.994259 223.553982 
L 186.3605 224.066455 
L 186.745031 221.262334 
L 187.290617 222.213516 
L 187.585739 222.02756 
L 187.343999 219.44081 
L 187.92 211.68 
L 188.496 221.989059 
L 187.940441 220.124049 
L 188.373803 220.948792 
L 188.780112 219.755005 
L 189.023304 221.683506 
L 189.403853 222.413282 
L 189.584965 224.584523 
L 190.041036 226.824497 
L 190.428291 226.750995 
L 190.838276 227.756514 
L 191.292829 228.633621 
L 191.519048 226.586804 
L 191.909947 227.679791 
L 191.664 227.280308 
L 192.24 229.68 
L 192.816 227.949312 
L 192.158927 226.350654 
L 192.578068 225.629453 
L 192.921216 225.6579 
L 193.332121 224.639076 
L 193.104 223.850661 
L 193.68 230.4 
L 194.256 224.32227 
L 193.575306 224.36679 
L 194.091604 224.745296 
L 194.5432 224.211487 
L 194.774033 224.020742 
L 195.185315 223.246038 
L 195.505487 222.235608 
L 195.798178 221.460886 
L 196.230125 218.882946 
L 196.486742 217.301028 
L 196.876145 216.57257 
L 196.704 216.786715 
L 197.28 210.24 
L 197.855999 216.490344 
L 197.216109 217.301024 
L 197.666272 218.286217 
L 198.035929 216.337934 
L 198.473403 217.729161 
L 198.144 216.857717 
L 198.72 208.8 
L 199.296 217.268376 
L 198.722728 215.92994 
L 199.120741 218.02229 
L 199.517855 215.535306 
L 199.151999 215.188774 
L 199.728 205.776 
L 200.304 217.470698 
L 199.918108 216.917505 
L 200.235033 215.666624 
L 200.609839 216.933705 
L 200.780566 219.248409 
L 201.09611 222.102702 
L 201.024 221.70602 
L 201.599999 227.52 
L 202.176 223.333539 
L 201.623878 223.420836 
L 201.988798 225.489123 
L 201.744 225.381552 
L 202.319999 234.72 
L 202.895999 225.711584 
L 202.273441 226.403392 
L 202.622542 228.091143 
L 202.920753 228.03584 
L 203.382192 229.257244 
L 203.674473 232.051511 
L 204.08326 230.328033 
L 204.579686 230.612195 
L 204.87851 230.774912 
L 205.26162 228.358745 
L 205.418796 228.55925 
L 205.344 228.464228 
L 205.92 217.152 
L 206.495999 228.740591 
L 205.830908 228.25784 
L 206.406303 226.659246 
L 206.580234 227.104006 
L 207.020499 229.179604 
L 207.385401 229.892014 
L 207.764988 229.491852 
L 208.023998 229.336407 
L 208.519814 228.461214 
L 208.695725 227.824891 
L 209.208646 227.534343 
L 209.435472 226.790392 
L 209.759509 226.56595 
L 210.32963 226.176626 
L 210.584825 224.583744 
L 210.896345 224.302482 
L 210.528 224.059101 
L 211.103999 234 
L 211.679999 226.355874 
L 211.381723 226.013325 
L 211.574276 224.288447 
L 212.159006 224.064781 
L 212.522587 225.135766 
L 211.968 222.281772 
L 212.543999 212.4 
L 213.119999 223.481955 
L 212.783936 222.995958 
L 213.084297 223.152905 
L 213.402537 223.282824 
L 213.90658 227.999943 
L 214.067042 229.955281 
L 214.572759 229.939527 
L 214.795819 232.329037 
L 215.166113 231.265692 
L 215.575152 231.364849 
L 215.991263 228.035242 
L 216.486213 228.782547 
L 216.783187 226.15108 
L 216.503999 227.394473 
L 217.079999 236.16 
L 217.656 226.296205 
L 217.162404 226.982204 
L 217.484111 226.49355 
L 217.889807 225.146147 
L 218.155571 223.654402 
L 218.482808 224.985257 
L 218.159999 222.995226 
L 218.736 220.68 
L 219.312 224.289344 
L 218.968309 222.697198 
L 219.316205 223.225184 
L 219.736932 221.966542 
L 220.033944 222.481998 
L 219.743999 220.74397 
L 220.32 234.72 
L 220.895999 220.363588 
L 220.282053 221.414128 
L 220.610127 221.317605 
L 220.981015 220.486357 
L 221.34846 219.393438 
L 221.867764 219.247108 
L 222.155766 219.155194 
L 222.470949 218.93777 
L 222.845692 220.358386 
L 223.142107 220.153489 
L 222.983999 221.035659 
L 223.559999 230.4 
L 224.136 220.923508 
L 223.520411 222.181544 
L 224.033932 222.913144 
L 224.257408 223.343971 
L 224.665078 224.198561 
L 224.891787 224.368724 
L 225.385421 224.675658 
L 225.794365 226.355874 
L 225.36 226.890503 
L 225.936 207.72 
L 226.512 225.698403 
L 226.045634 226.673258 
L 226.308347 228.110399 
L 226.824774 227.4642 
L 227.199782 228.342201 
L 227.607612 226.597254 
L 227.795772 226.35731 
L 228.207488 225.182018 
L 228.600303 223.599555 
L 228.167999 223.720862 
L 228.743999 232.56 
L 229.32 221.691428 
L 228.900887 221.375994 
L 229.189411 220.765247 
L 229.799635 219.534649 
L 229.928555 220.389136 
L 230.398073 218.855944 
L 230.814099 219.768724 
L 231.041349 218.60136 
L 230.76 219.347673 
L 231.335999 205.92 
L 231.911999 220.383408 
L 231.603011 218.909607 
L 231.894564 219.872487 
L 231.408 221.065614 
L 231.984 215.28 
L 232.559999 219.639656 
L 232.133818 219.172189 
L 232.666949 219.862514 
L 232.856216 220.396519 
L 232.704 222.388184 
L 233.28 230.4 
L 233.855999 220.330826 
L 233.232957 221.796705 
L 233.543682 221.882608 
L 233.978301 220.838167 
L 234.390701 221.992753 
L 234.636919 223.857509 
L 235.177627 222.877861 
L 235.388519 222.105248 
L 235.865684 223.006907 
L 236.163366 224.171653 
L 235.728 224.595956 
L 236.303999 229.68 
L 236.88 223.139984 
L 236.402299 224.818285 
L 236.750819 224.202978 
L 237.106374 224.000457 
L 236.808 224.069119 
L 237.384 213.12 
L 237.96 225.661551 
L 237.669967 224.374967 
L 237.984816 225.270988 
L 238.202254 225.220358 
L 238.752201 224.943855 
L 238.32 225.386435 
L 238.895999 219.6 
L 239.472 225.671685 
L 238.897158 226.806256 
L 239.369786 226.760509 
L 239.767497 227.389156 
L 240.165747 226.652967 
L 240.371614 226.688663 
L 240.697523 225.594273 
L 241.294984 226.287205 
L 241.643216 226.450728 
L 241.344 225.552668 
L 241.92 242.64 
L 242.495999 226.041035 
L 242.047821 226.582362 
L 242.209276 226.10357 
L 241.92 224.804456 
L 242.495999 230.4 
L 243.072 224.161507 
L 242.614122 224.92854 
L 243.112031 225.329768 
L 243.377215 224.71347 
L 243.728384 222.589518 
L 244.061492 223.224929 
L 244.513309 221.353078 
L 244.656606 218.869543 
L 244.368 219.143971 
L 244.944 229.32 
L 245.52 216.327484 
L 245.221406 215.043248 
L 245.596748 216.840246 
L 245.795961 216.669339 
L 245.664 215.622859 
L 246.239999 192.6 
L 246.816 217.757949 
L 246.105151 217.297207 
L 246.518024 216.771209 
L 246.239999 216.543107 
L 246.816 203.4 
L 247.392 218.928887 
L 246.873903 217.626014 
L 247.281291 218.026344 
L 247.600489 220.059224 
L 248.062286 219.975625 
L 247.823999 217.260341 
L 248.4 202.32 
L 248.975999 218.685477 
L 248.278955 217.045367 
L 248.740407 218.408741 
L 249.182393 218.014756 
L 249.35819 217.245963 
L 249.908523 219.526424 
L 250.316734 218.11112 
L 249.768 219.849252 
L 250.343999 225 
L 250.92 217.337079 
L 250.593672 219.37707 
L 250.776483 217.147545 
L 251.228499 217.910436 
L 250.848 217.86571 
L 251.423999 205.92 
L 252 219.250358 
L 251.680212 219.16702 
L 252.057473 218.770316 
L 252.321399 218.216362 
L 252.638479 219.551583 
L 252.36 220.79856 
L 252.935999 230.4 
L 253.512 219.502882 
L 253.190354 221.204543 
L 253.518179 220.624538 
L 253.660217 220.292167 
L 254.025884 220.4639 
L 254.49838 218.730291 
L 255.003966 219.705695 
L 255.372591 222.427709 
L 255.023999 224.234754 
L 255.599999 239.544 
L 256.176 223.508464 
L 255.557312 223.687448 
L 255.948619 225.242078 
L 256.45068 224.727398 
L 256.58368 225.979578 
L 256.903904 225.336708 
L 257.377875 223.929646 
L 257.628092 224.326315 
L 258.044259 224.312401 
L 258.456039 225.18246 
L 258.78179 225.027822 
L 259.138078 226.746118 
L 258.84 225.535976 
L 259.415999 233.28 
L 259.992 226.511432 
L 259.518057 226.817183 
L 259.954525 227.756286 
L 260.31636 227.700534 
L 260.625764 227.510768 
L 260.889856 227.610818 
L 261.483705 228.537281 
L 261.072 228.6311 
L 261.647999 215.064 
L 262.224 227.920773 
L 261.63729 226.326621 
L 262.089699 228.077893 
L 262.524585 225.14623 
L 262.760809 224.38805 
L 263.09388 224.606812 
L 263.469786 223.537156 
L 263.819304 223.971285 
L 264.204813 226.411267 
L 264.478735 230.231889 
L 264.855091 229.166918 
L 265.438088 229.583835 
L 265.537288 227.378129 
L 266.128802 226.656422 
L 266.441801 225.650526 
L 266.752173 225.387519 
L 267.053659 224.57988 
L 267.574861 224.92148 
L 267.765074 224.632967 
L 267.48 226.058393 
L 268.056 232.776 
L 268.631999 225.246794 
L 268.155581 225.569835 
L 268.458627 226.083164 
L 268.880796 225.759279 
L 269.23584 226.68287 
L 269.546841 226.461407 
L 270.046612 224.187492 
L 270.261101 223.583823 
L 270.703775 224.464373 
L 271.161965 222.57588 
L 271.433003 222.54705 
L 271.879498 225.619648 
L 272.20096 227.114819 
L 272.397458 228.690006 
L 272.909032 229.867128 
L 273.354522 229.277748 
L 273.526351 228.834876 
L 273.993754 229.140756 
L 274.390065 227.61646 
L 274.648214 227.626775 
L 275.002739 226.549697 
L 275.261287 226.726871 
L 275.675025 227.926913 
L 275.471999 225.849608 
L 276.047999 220.32 
L 276.624 225.72511 
L 276.124925 228.046214 
L 276.414896 226.041892 
L 276.722075 225.802078 
L 276.408 227.33178 
L 276.984 213.624 
L 277.56 226.68924 
L 277.292161 226.413681 
L 277.573823 226.081553 
L 277.868995 228.247456 
L 277.56 227.549442 
L 278.135999 218.376 
L 278.711999 227.207492 
L 278.404173 226.958574 
L 278.516868 227.295086 
L 278.351999 227.684792 
L 278.927999 228.024 
L 279.504 228.199745 
L 278.962097 227.530328 
L 278.783999 228.510693 
L 279.36 247.824 
L 279.935999 227.884823 
L 279.294798 228.616106 
L 279.740081 228.464207 
L 279.504 228.464658 
L 280.079999 232.776 
L 280.655999 228.13456 
L 280.022091 228.089181 
L 280.329229 228.207488 
L 280.807248 227.43574 
L 281.143384 227.420423 
L 281.511334 227.926268 
L 281.877749 227.193159 
L 282.127259 229.54491 
L 281.88 228.081255 
L 282.455999 221.256 
L 283.032 228.411425 
L 282.656341 228.724196 
L 282.93232 228.202013 
L 283.30116 229.833506 
L 282.888 229.648064 
L 283.464 206.424 
L 284.039999 229.501424 
L 283.585812 229.711542 
L 283.319999 229.084411 
L 283.895999 220.32 
L 284.472 229.653215 
L 283.898409 229.490302 
L 284.274792 231.549209 
L 284.768079 229.314009 
L 285.153245 228.162306 
L 285.522833 226.980511 
L 285.810076 226.932654 
L 286.253292 226.831762 
L 286.494592 226.04756 
L 286.968942 227.226383 
L 287.214283 225.28672 
L 287.73462 223.994142 
L 287.856337 223.204859 
L 288.311277 223.125069 
L 287.927999 222.148227 
L 288.504 232.776 
L 289.079999 222.483934 
L 288.838836 224.134607 
L 289.052776 226.034458 
L 289.489829 225.676915 
L 289.734001 228.082733 
L 290.285758 227.569924 
L 290.529235 227.237965 
L 290.926178 226.397826 
L 291.299124 223.930239 
L 291.708397 224.22191 
L 291.914419 223.121579 
L 292.254048 223.457578 
L 292.549375 222.432513 
L 292.969492 221.029624 
L 293.400773 220.816536 
L 293.868916 220.692025 
L 294.017999 219.806804 
L 294.499769 222.497339 
L 294.81412 223.325032 
L 295.288237 225.03795 
L 295.590906 227.056926 
L 295.823409 224.951056 
L 296.408103 224.395294 
L 296.777307 220.572198 
L 296.978394 220.342236 
L 297.394807 219.607863 
L 297.701095 221.453965 
L 297.953372 221.13847 
L 298.478809 221.694916 
L 298.91059 219.443393 
L 299.058356 218.242593 
L 299.422465 217.194393 
L 299.794081 216.719646 
L 300.346736 217.877483 
L 300.671451 217.369543 
L 300.167999 218.279592 
L 300.743999 226.584 
L 301.32 218.148675 
L 301.097291 219.28899 
L 301.413026 219.61715 
L 301.555327 220.345748 
L 302.104956 220.410032 
L 302.379179 219.293194 
L 302.758365 219.203853 
L 303.006514 219.54728 
L 302.687999 219.054866 
L 303.263999 206.424 
L 303.84 217.802929 
L 303.512553 219.427334 
L 303.849353 217.027358 
L 304.33451 219.244855 
L 304.554352 221.651395 
L 304.904386 220.881318 
L 305.137037 221.87419 
L 305.538713 220.661578 
L 305.879416 219.885907 
L 306.22275 220.860527 
L 306.580037 222.170674 
L 307.105362 221.956911 
L 307.5621 220.63376 
L 307.814574 221.100657 
L 308.215144 221.518008 
L 308.52185 223.901675 
L 308.898018 223.637437 
L 309.107752 226.443949 
L 309.482538 226.178681 
L 309.959715 226.654989 
L 309.743999 225.484411 
L 310.32 234.72 
L 310.896 224.984593 
L 310.227435 224.867214 
L 310.685561 224.672542 
L 311.017128 225.049771 
L 311.296964 226.601167 
L 311.845976 227.292952 
L 312.089666 227.578133 
L 312.543072 228.931584 
L 312.849897 228.757644 
L 313.128398 230.123374 
L 313.643084 230.096169 
L 313.938099 231.907587 
L 314.238596 231.741339 
L 314.664737 231.061956 
L 314.28 231.548517 
L 314.855999 243.36 
L 315.431999 230.465499 
L 315.024749 232.463091 
L 315.235762 232.32195 
L 315.590676 231.327931 
L 316.116386 232.56023 
L 316.350552 232.011917 
L 316.224 231.083677 
L 316.8 240.48 
L 317.375999 232.497076 
L 316.851922 233.160575 
L 317.214213 232.518935 
L 317.607189 231.164323 
L 317.891952 229.44741 
L 318.145697 229.847382 
L 318.565194 227.520754 
L 319.049073 226.700684 
L 319.196493 224.609916 
L 319.552999 224.064598 
L 320.055448 224.566618 
L 320.31365 224.067469 
L 320.039999 225.169513 
L 320.615999 217.44 
L 321.191999 225.531034 
L 320.756849 225.423484 
L 321.240944 226.692704 
L 321.551296 226.165608 
L 321.860329 227.624076 
L 322.18194 226.667472 
L 321.695999 228.323024 
L 322.271999 238.536 
L 322.848 228.822116 
L 322.505393 229.194039 
L 322.982278 229.54138 
L 323.145348 228.231994 
L 323.642485 229.260276 
L 323.887974 229.611342 
L 324.284416 228.376234 
L 324.695744 226.958333 
L 325.172094 227.726568 
L 325.308168 226.801593 
L 325.843387 226.037592 
L 326.126661 225.673873 
L 326.454467 226.470697 
L 326.774548 224.430387 
L 327.300021 225.200983 
L 327.638828 225.703455 
L 328.022932 224.694461 
L 327.743999 226.20842 
L 328.319999 233.784 
L 328.895999 225.295178 
L 328.375287 225.345627 
L 328.773648 226.701029 
L 329.078795 225.374316 
L 329.373486 225.574858 
L 329.668424 224.691175 
L 330.155054 225.398772 
L 330.355328 225.859933 
L 330.868392 226.267988 
L 331.087741 227.437981 
L 331.561562 227.889062 
L 331.848266 230.678957 
L 332.416656 230.407726 
L 332.637245 229.726332 
L 332.88656 228.696111 
L 333.41683 228.123303 
L 333.818782 229.029563 
L 334.01723 226.918409 
L 334.476387 227.120705 
L 334.872014 227.668495 
L 335.26558 226.225626 
L 334.943999 226.876015 
L 335.52 234.72 
L 336.096 227.88797 
L 335.613001 227.830474 
L 335.758472 226.709132 
L 336.267584 226.605533 
L 335.88 225.1613 
L 336.455999 222.696 
L 337.032 227.017331 
L 336.669782 226.241991 
L 336.858941 225.199624 
L 337.178934 225.874031 
L 337.738355 225.917397 
L 338.047922 225.050847 
L 338.458863 225.117949 
L 338.785372 223.984811 
L 339.257635 224.179208 
L 339.525761 226.645224 
L 339.812087 227.568912 
L 340.332597 228.555826 
L 340.644902 228.137632 
L 340.950951 228.800423 
L 341.320366 230.821815 
L 341.606961 229.634899 
L 342.116132 229.991724 
L 342.301802 231.652263 
L 342.848682 230.88813 
L 342.971635 230.128807 
L 343.415888 228.849425 
L 343.73697 228.656404 
L 344.074188 229.428839 
L 344.39219 230.596857 
L 344.882344 232.369525 
L 345.15139 231.261822 
L 345.532082 229.282075 
L 346.084563 228.829332 
L 346.41865 228.85499 
L 346.694896 227.764844 
L 347.162762 226.079413 
L 347.287952 225.691959 
L 347.70146 226.091973 
L 347.327999 226.08087 
L 347.903999 216.36 
L 348.48 223.878099 
L 348.10978 223.97197 
L 348.474369 223.579753 
L 348.789324 224.069232 
L 349.174182 224.821997 
L 349.61093 227.503591 
L 350.030882 226.730583 
L 350.166379 227.432861 
L 350.650917 225.835371 
L 351.04081 227.250983 
L 350.783999 225.999466 
L 351.36 236.376 
L 351.936 227.012867 
L 351.312139 227.12208 
L 351.742598 227.24238 
L 352.010902 226.966773 
L 352.379284 226.317275 
L 352.908823 227.096017 
L 353.254538 227.393038 
L 353.552545 228.513619 
L 353.799942 227.988359 
L 354.274965 227.225749 
L 354.738497 224.587291 
L 355.075861 223.171794 
L 355.28942 224.107776 
L 355.585221 222.176401 
L 356.157801 222.695069 
L 356.407223 223.121361 
L 356.760439 224.469719 
L 357.254456 224.974424 
L 357.620512 225.602342 
L 357.728218 226.721583 
L 358.22262 227.772414 
L 358.582428 228.424462 
L 358.935826 228.734872 
L 359.282895 227.370624 
L 359.645256 226.583408 
L 359.989872 223.171589 
L 360.410825 223.786219 
L 360.615718 221.907926 
L 361.051131 222.201843 
L 361.516349 224.236119 
L 361.791227 225.208532 
L 362.275857 225.482331 
L 362.566521 226.31774 
L 362.95635 226.43295 
L 363.236204 226.854723 
L 363.683533 225.944223 
L 364.066903 224.666651 
L 364.29264 226.470035 
L 364.772593 227.644523 
L 365.002593 226.726345 
L 365.382952 225.721196 
L 365.184 225.385221 
L 365.759999 229.176 
L 366.335999 226.93737 
L 365.815518 227.63342 
L 366.20744 227.871005 
L 366.4655 225.717545 
L 366.851222 226.859618 
L 366.408 225.395368 
L 366.984 218.376 
L 367.559999 228.914892 
L 367.232274 228.706892 
L 367.560982 226.01457 
L 367.856365 228.31816 
L 368.401864 228.300789 
L 368.75865 229.412064 
L 368.932152 226.600519 
L 369.408376 228.720564 
L 369 227.775829 
L 369.575999 208.8 
L 370.151999 228.728699 
L 369.855308 226.184186 
L 370.073759 225.711475 
L 370.391315 225.429324 
L 370.007999 227.978332 
L 370.584 220.824 
L 371.159999 227.29371 
L 370.860183 226.915993 
L 371.021985 225.487391 
L 371.50778 225.134517 
L 371.159999 227.569801 
L 371.736 232.776 
L 372.311999 224.384984 
L 371.830216 226.2267 
L 372.225675 224.982616 
L 372.730091 226.32797 
L 372.852015 228.061188 
L 373.189466 228.157889 
L 373.820168 229.671435 
L 374.045426 228.370626 
L 374.419903 230.415068 
L 374.183999 227.264613 
L 374.759999 238.824 
L 375.335999 230.00632 
L 374.792661 227.14193 
L 375.205815 228.602397 
L 375.571738 226.356336 
L 375.048 226.56342 
L 375.623999 214.776 
L 376.199999 228.888097 
L 375.965956 228.72699 
L 376.062586 225.946784 
L 376.692711 226.526754 
L 376.911039 224.5119 
L 377.281653 227.31835 
L 377.663695 226.175415 
L 377.208 228.658626 
L 377.783999 221.976 
L 378.359999 225.251193 
L 378.106198 225.63378 
L 378.29262 228.724576 
L 378.661255 226.425227 
L 379.003498 229.660949 
L 379.567703 228.990527 
L 379.815248 230.125074 
L 380.204352 228.28329 
L 380.625452 228.896302 
L 380.883974 229.216574 
L 380.52 227.730052 
L 381.096 238.176 
L 381.671999 227.044996 
L 381.301634 228.806742 
L 381.586718 230.269384 
L 382.058021 228.155389 
L 382.304869 229.833971 
L 382.696306 230.084143 
L 382.914491 230.099892 
L 383.330719 227.718988 
L 383.184 228.583223 
L 383.759999 218.376 
L 384.335999 229.767769 
L 383.774233 227.286675 
L 384.082455 227.8436 
L 384.51808 228.177899 
L 384.766374 229.719818 
L 385.162917 229.685131 
L 385.539307 228.055616 
L 385.883985 227.64512 
L 386.416832 226.236266 
L 386.511393 225.078816 
L 386.967576 228.262411 
L 387.329293 229.361747 
L 387.653379 230.539964 
L 387.986213 232.593657 
L 388.482321 232.195699 
L 388.941946 232.586366 
L 389.298987 231.227026 
L 389.647576 230.054572 
L 389.892874 228.069982 
L 390.210737 228.246747 
L 390.500881 228.998005 
L 390.383999 231.161839 
L 390.96 221.976 
L 391.536 229.871304 
L 390.826776 228.253973 
L 391.421809 229.869863 
L 391.566999 229.96379 
L 391.958508 231.991342 
L 392.45082 230.672548 
L 392.825748 231.051702 
L 393.082716 231.819213 
L 393.416892 231.418768 
L 393.926547 231.104857 
L 394.122388 228.606374 
L 394.681389 226.111637 
L 394.828667 225.146915 
L 395.142378 225.295084 
L 395.623627 227.99965 
L 395.423999 225.674172 
L 396 210.024 
L 396.575999 228.126261 
L 395.998506 225.555853 
L 396.321567 227.867202 
L 396.681132 227.152168 
L 397.057042 228.09934 
L 397.556481 225.225266 
L 397.816137 227.732046 
L 398.054486 223.36587 
L 398.652005 225.252179 
L 398.16 224.44246 
L 398.735999 231.624 
L 399.311999 221.770984 
L 398.899882 223.300808 
L 399.158304 223.27028 
L 399.632134 222.620467 
L 400.090588 222.781462 
L 400.396874 222.866821 
L 399.96 223.611823 
L 400.535999 212.4 
L 401.112 223.397286 
L 400.689999 224.062206 
L 400.96257 227.322599 
L 401.47405 229.865651 
L 401.868142 229.45553 
L 402.164464 228.617075 
L 402.505379 225.187094 
L 402.119999 227.788856 
L 402.695999 216 
L 403.271999 226.149015 
L 402.925247 228.270302 
L 403.152409 227.528471 
" clip-path="url(#p0d70362a3d)" style="fill: none; stroke-dasharray: 5.55,2.4; stroke-dashoffset: 0; stroke: #000000; stroke-opacity: 0.5; stroke-width: 1.5"/>
   </g>
   <g id="line2d_28">
    <path d="M 370.799999 222.624 
L 372.743999 216 
L 374.759999 223.776 
L 376.343999 218.664 
L 378.359999 222.624 
L 381.599999 228.6 
L 383.184 214.776 
L 384.335999 215.424 
L 386.783999 206.424 
L 388.584 214.776 
L 390.023999 208.584 
L 392.184 209.376 
L 393.983999 210.96 
L 395.783999 208.584 
L 397.224 210.024 
L 399.095999 202.824 
L 400.823999 190.8 
L 402.695999 200.376 
" clip-path="url(#p0d70362a3d)" style="fill: none; stroke: #4c72b0; stroke-opacity: 0.75; stroke-width: 1.5; stroke-linecap: round"/>
   </g>
   <g id="patch_9">
    <path d="M 72.0216 253.3464 
L 72.0216 139.6296 
" style="fill: none; stroke: #ffffff; stroke-width: 1.25; stroke-linejoin: miter; stroke-linecap: square"/>
   </g>
   <g id="patch_10">
    <path d="M 418.8744 253.3464 
L 418.8744 139.6296 
" style="fill: none; stroke: #ffffff; stroke-width: 1.25; stroke-linejoin: miter; stroke-linecap: square"/>
   </g>
   <g id="patch_11">
    <path d="M 72.0216 253.3464 
L 418.8744 253.3464 
" style="fill: none; stroke: #ffffff; stroke-width: 1.25; stroke-linejoin: miter; stroke-linecap: square"/>
   </g>
   <g id="patch_12">
    <path d="M 72.0216 139.6296 
L 418.8744 139.6296 
" style="fill: none; stroke: #ffffff; stroke-width: 1.25; stroke-linejoin: miter; stroke-linecap: square"/>
   </g>
  </g>
  <g id="axes_3">
   <g id="patch_13">
    <path d="M 72.0216 379.8504 
L 418.8744 379.8504 
L 418.8744 266.4936 
L 72.0216 266.4936 
z
" style="fill: #eaeaf2"/>
   </g>
   <g id="matplotlib.axis_5">
    <g id="xtick_17">
     <g id="line2d_29">
      <path d="M 78.119999 379.8504 
L 78.119999 266.4936 
" clip-path="url(#p6120b2907d)" style="fill: none; stroke: #ffffff; stroke-linecap: round"/>
     </g>
     <g id="text_11">
      <text style="font-size: 11px; letter-spacing: -0.3px; font-family: 'DejaVu Sans', 'Liberation Sans', sans-serif; text-anchor: middle; fill: #262626" x="77.6160" y="397.8887">575</text>
     </g>
    </g>
    <g id="xtick_18">
     <g id="line2d_30">
      <path d="M 121.4028 379.8504 
L 121.4028 266.4936 
" clip-path="url(#p6120b2907d)" style="fill: none; stroke: #ffffff; stroke-linecap: round"/>
     </g>
     <g id="text_12">
      <text style="font-size: 11px; letter-spacing: -0.3px; font-family: 'DejaVu Sans', 'Liberation Sans', sans-serif; text-anchor: middle; fill: #262626" x="120.8988" y="397.8887">600</text>
     </g>
    </g>
    <g id="xtick_19">
     <g id="line2d_31">
      <path d="M 164.6856 379.8504 
L 164.6856 266.4936 
" clip-path="url(#p6120b2907d)" style="fill: none; stroke: #ffffff; stroke-linecap: round"/>
     </g>
     <g id="text_13">
      <text style="font-size: 11px; letter-spacing: -0.3px; font-family: 'DejaVu Sans', 'Liberation Sans', sans-serif; text-anchor: middle; fill: #262626" x="164.1816" y="397.8887">625</text>
     </g>
    </g>
    <g id="xtick_20">
     <g id="line2d_32">
      <path d="M 207.9684 379.8504 
L 207.9684 266.4936 
" clip-path="url(#p6120b2907d)" style="fill: none; stroke: #ffffff; stroke-linecap: round"/>
     </g>
     <g id="text_14">
      <text style="font-size: 11px; letter-spacing: -0.3px; font-family: 'DejaVu Sans', 'Liberation Sans', sans-serif; text-anchor: middle; fill: #262626" x="207.4644" y="397.8887">650</text>
     </g>
    </g>
    <g id="xtick_21">
     <g id="line2d_33">
      <path d="M 251.2512 379.8504 
L 251.2512 266.4936 
" clip-path="url(#p6120b2907d)" style="fill: none; stroke: #ffffff; stroke-linecap: round"/>
     </g>
     <g id="text_15">
      <text style="font-size: 11px; letter-spacing: -0.3px; font-family: 'DejaVu Sans', 'Liberation Sans', sans-serif; text-anchor: middle; fill: #262626" x="250.7472" y="397.8887">675</text>
     </g>
    </g>
    <g id="xtick_22">
     <g id="line2d_34">
      <path d="M 294.533999 379.8504 
L 294.533999 266.4936 
" clip-path="url(#p6120b2907d)" style="fill: none; stroke: #ffffff; stroke-linecap: round"/>
     </g>
     <g id="text_16">
      <text style="font-size: 11px; letter-spacing: -0.3px; font-family: 'DejaVu Sans', 'Liberation Sans', sans-serif; text-anchor: middle; fill: #262626" x="294.0300" y="397.8887">700</text>
     </g>
    </g>
    <g id="xtick_23">
     <g id="line2d_35">
      <path d="M 337.8168 379.8504 
L 337.8168 266.4936 
" clip-path="url(#p6120b2907d)" style="fill: none; stroke: #ffffff; stroke-linecap: round"/>
     </g>
     <g id="text_17">
      <text style="font-size: 11px; letter-spacing: -0.3px; font-family: 'DejaVu Sans', 'Liberation Sans', sans-serif; text-anchor: middle; fill: #262626" x="337.3128" y="397.8887">725</text>
     </g>
    </g>
    <g id="xtick_24">
     <g id="line2d_36">
      <path d="M 381.099599 379.8504 
L 381.099599 266.4936 
" clip-path="url(#p6120b2907d)" style="fill: none; stroke: #ffffff; stroke-linecap: round"/>
     </g>
     <g id="text_18">
      <text style="font-size: 11px; letter-spacing: -0.3px; font-family: 'DejaVu Sans', 'Liberation Sans', sans-serif; text-anchor: middle; fill: #262626" x="380.5956" y="397.8887">750</text>
     </g>
    </g>
    <g id="text_19">
     <g style="fill: #262626" transform="translate(233.6160 416.8585) scale(1 1.060)">
      <text x="0" y="-0.890625" style="font-size: 12px; font-family: 'DejaVu Sans', 'Liberation Sans', sans-serif; fill: #262626"><tspan style="font-style: oblique">t</tspan> (s)</text>
     </g>
    </g>
    <g id="text_20">
     <text style="font-size: 11px; font-family: 'DejaVu Sans', 'Liberation Sans', sans-serif; text-anchor: end; fill: #262626" x="418.8744" y="412.6506">+1.403636e9</text>
    </g>
   </g>
   <g id="matplotlib.axis_6">
    <g id="ytick_7">
     <g id="line2d_37">
      <path d="M 72.0216 352.296 
L 418.8744 352.296 
" clip-path="url(#p6120b2907d)" style="fill: none; stroke: #ffffff; stroke-linecap: round"/>
     </g>
     <g id="text_21">
      <text style="font-size: 11px; font-family: 'DejaVu Sans', 'Liberation Sans', sans-serif; text-anchor: end; fill: #262626" x="62.5216" y="356.475141">−100</text>
     </g>
    </g>
    <g id="ytick_8">
     <g id="line2d_38">
      <path d="M 72.0216 323.496 
L 418.8744 323.496 
" clip-path="url(#p6120b2907d)" style="fill: none; stroke: #ffffff; stroke-linecap: round"/>
     </g>
     <g id="text_22">
      <text style="font-size: 11px; font-family: 'DejaVu Sans', 'Liberation Sans', sans-serif; text-anchor: end; fill: #262626" x="62.5216" y="327.675141">0</text>
     </g>
    </g>
    <g id="ytick_9">
     <g id="line2d_39">
      <path d="M 72.0216 294.696 
L 418.8744 294.696 
" clip-path="url(#p6120b2907d)" style="fill: none; stroke: #ffffff; stroke-linecap: round"/>
     </g>
     <g id="text_23">
      <text style="font-size: 11px; font-family: 'DejaVu Sans', 'Liberation Sans', sans-serif; text-anchor: end; fill: #262626" x="62.5216" y="298.875141">100</text>
     </g>
    </g>
    <g id="text_24">
     <g style="fill: #262626" transform="translate(24.5637 353.7360) rotate(-90) scale(1 1.060)">
      <text x="0" y="-0.875" style="font-size: 12px; font-family: 'DejaVu Sans', 'Liberation Sans', sans-serif; fill: #262626"><tspan style="font-style: oblique">yaw</tspan> (deg)</text>
     </g>
    </g>
   </g>
   <g id="line2d_40">
    <path d="M 87.84 277.92 
L 88.21754 277.980238 
L 88.999547 277.979346 
L 89.354132 278.298835 
L 90 279.072 
L 90.504817 279.162623 
L 91.082921 278.989479 
L 91.573045 279.209597 
L 92.171966 278.378775 
L 92.88 278.64 
L 93.418534 278.672796 
L 94.053219 278.428124 
L 94.593349 277.43499 
L 95.039999 277.2 
L 95.547138 277.898429 
L 96.037441 278.518431 
L 96.808739 278.885617 
L 97.2 279.072 
L 97.806 279.001263 
L 98.327529 279.414658 
L 98.937796 279.892952 
L 99.615972 279.918793 
L 100.307952 280.756819 
L 100.8 280.8 
L 101.440031 280.178638 
L 101.869908 280.224405 
L 102.302111 279.592325 
L 102.968799 279.427256 
L 103.514831 278.937806 
L 104.003908 278.965886 
L 104.4 278.208 
L 104.956411 279.099811 
L 105.376732 279.105027 
L 105.687843 279.97312 
L 106.080565 279.993972 
L 106.566093 280.671409 
L 107.254485 280.860818 
L 107.567999 281.52 
L 107.945088 281.326963 
L 108.162507 280.21507 
L 108.485253 279.942152 
L 108.723793 279.420355 
L 109.036213 279.166909 
L 109.053042 278.087872 
L 109.44 277.92 
L 109.77168 278.350321 
L 109.808601 278.576504 
L 110.105441 279.976513 
L 110.40589 279.894345 
L 110.597214 280.450868 
L 110.628753 281.248861 
L 110.88 281.952 
L 111.145432 281.436028 
L 111.370467 280.921059 
L 111.755476 280.094302 
L 111.734989 280.181313 
L 112.009392 279.501424 
L 112.472517 278.319567 
L 112.661437 277.753911 
L 112.803268 277.661895 
L 113.04 277.2 
L 113.348587 278.101586 
L 113.357002 277.940526 
L 113.797743 279.229338 
L 113.874279 279.723945 
L 114.114306 280.158671 
L 114.48 280.8 
L 115.012895 280.691001 
L 115.269089 279.799823 
L 115.710038 279.611173 
L 115.740756 279.066764 
L 116.308348 278.377326 
L 116.64 277.92 
L 116.925574 277.258088 
L 117.179434 277.185216 
L 117.643409 276.013 
L 117.96814 276.171552 
L 118.268755 275.055677 
L 118.430305 274.592509 
L 118.8 274.32 
L 119.303135 275.259132 
L 119.562686 274.890448 
L 119.74951 275.615137 
L 120.101569 276.252779 
L 120.513368 276.299316 
L 120.96 277.2 
L 121.207721 277.585876 
L 121.679999 278.352 
L 163.728 278.424 
L 163.886594 277.599916 
L 163.934621 277.00247 
L 163.876801 276.116349 
L 164.034825 275.63572 
L 164.065568 275.618999 
L 164.320607 274.454191 
L 164.532539 273.90169 
L 164.52 273.456 
L 165.004419 273.681328 
L 165.770196 274.013764 
L 166.217636 275.055632 
L 166.895999 275.04 
L 167.582087 275.015266 
L 168.383211 274.219878 
L 168.912 274.176 
L 169.236037 274.307849 
L 169.702267 275.569452 
L 169.902507 275.438438 
L 170.329496 275.786379 
L 170.444364 277.295967 
L 170.783999 277.344 
L 171.048058 278.198496 
L 171.613318 278.672947 
L 171.700338 279.516443 
L 172.063028 280.053128 
L 172.2963 280.593172 
L 172.851416 280.18638 
L 173.088 281.232 
L 173.674634 281.464697 
L 174.151002 282.299529 
L 174.672 282.816 
L 175.106715 282.760268 
L 175.990483 282.119993 
L 176.36553 281.796347 
L 176.976 281.232 
L 177.250467 280.818837 
L 177.575762 279.825099 
L 178.039618 279.532081 
L 178.080832 278.66823 
L 178.520135 278.2504 
L 178.848 278.136 
L 179.617344 277.904468 
L 180.06109 278.172281 
L 180.936 278.856 
L 181.43491 278.598086 
L 181.843218 278.231379 
L 182.00471 277.43979 
L 182.505805 276.732403 
L 182.88 276.48 
L 183.318917 275.745885 
L 183.705592 275.781383 
L 184.42099 274.485915 
L 184.823999 274.536 
L 185.104666 274.848895 
L 185.677795 275.667229 
L 185.934846 275.964716 
L 186.358734 277.188561 
L 186.696 277.344 
L 187.359585 277.211058 
L 187.676874 277.607055 
L 188.277719 278.627375 
L 188.64 278.856 
L 188.950543 278.08351 
L 189.178083 278.156269 
L 189.831846 277.65102 
L 190.183095 276.094348 
L 190.515411 275.541576 
L 190.728 275.472 
L 191.525026 275.319556 
L 192.118071 274.879774 
L 192.6 274.176 
L 193.221416 274.896935 
L 193.696227 274.587678 
L 194.09044 275.932442 
L 194.640294 275.52435 
L 194.975999 276.48 
L 195.544177 276.983457 
L 196.028039 277.234206 
L 196.825326 278.239123 
L 197.28 278.136 
L 197.934757 278.299658 
L 198.340396 277.507525 
L 198.913553 276.929526 
L 199.655999 276.984 
L 199.885689 277.783522 
L 200.005726 278.349355 
L 200.440737 279.078396 
L 200.545331 279.634167 
L 200.675148 280.143952 
L 201.021243 280.1341 
L 201.168 281.232 
L 201.476389 281.52474 
L 202.230131 282.073004 
L 202.723953 282.39106 
L 202.998461 283.488356 
L 203.544 283.536 
L 203.689484 284.128758 
L 204.028418 284.528903 
L 203.932788 285.383017 
L 204.245872 285.826211 
L 204.414311 286.629 
L 204.675003 287.388142 
L 204.817875 287.353378 
L 205.055999 288.216 
L 205.451324 289.033269 
L 205.980755 289.015473 
L 206.052664 289.674283 
L 206.679808 290.439608 
L 207.071761 290.871576 
L 207.359999 291.384 
L 207.563987 292.035459 
L 207.978099 292.565946 
L 207.979753 292.759509 
L 208.399813 293.290976 
L 208.555295 294.173679 
L 208.76969 294.485143 
L 209.039129 294.814558 
L 209.638245 296.012981 
L 209.736 296.064 
L 209.971442 296.175326 
L 210.425647 297.58608 
L 210.4804 297.141391 
L 210.656654 298.573166 
L 210.905735 298.583236 
L 211.240693 298.887417 
L 211.436818 299.165125 
L 211.728358 300.337528 
L 212.112 300.744 
L 212.511374 301.424248 
L 213.017322 301.900241 
L 213.383516 301.831325 
L 214.115081 303.031649 
L 214.415999 303.048 
L 214.771251 304.120663 
L 215.206038 304.56522 
L 215.413208 304.300155 
L 215.778649 305.77045 
L 216.040212 305.855574 
L 216.248121 306.198015 
L 216.719999 306.936 
L 216.852046 307.959024 
L 217.420313 308.531419 
L 217.573948 308.735589 
L 217.71789 309.05275 
L 218.116622 309.358439 
L 218.423053 310.315958 
L 218.47488 311.323202 
L 218.807999 311.616 
L 219.326972 312.326717 
L 219.883935 312.55058 
L 220.412698 312.893937 
L 220.851869 312.406929 
L 221.472 312.912 
L 221.978636 312.766632 
L 222.007699 312.13968 
L 222.430022 310.960395 
L 222.874059 311.385581 
L 223.241732 310.610153 
L 223.413205 309.361084 
L 223.776 309.312 
L 224.297122 309.52306 
L 225.066683 309.557253 
L 225.846914 309.504613 
L 226.378922 308.645759 
L 226.944 308.88 
L 227.42089 309.285935 
L 227.810977 309.762972 
L 228.107233 310.375505 
L 228.395051 311.119495 
L 229.011447 311.239736 
L 229.248 311.616 
L 229.798333 312.155511 
L 230.390674 312.328876 
L 230.831999 312.912 
L 230.846729 311.91596 
L 231.183866 311.705075 
L 231.309234 311.51454 
L 231.463863 310.337523 
L 231.684655 310.498498 
L 231.589181 309.209984 
L 231.745434 308.909075 
L 232.152644 308.475368 
L 232.052674 308.12357 
L 232.373333 307.108633 
L 232.415999 306.648 
L 232.751573 307.200126 
L 233.296912 307.724782 
L 233.420488 307.500197 
L 234.054153 308.208421 
L 234.192891 308.58779 
L 234.72 309.312 
L 235.419961 310.242397 
L 236.058524 309.659104 
L 236.560232 310.34118 
L 237.095999 310.896 
L 237.547945 310.412709 
L 237.975507 309.715159 
L 238.525739 309.322474 
L 238.879478 308.674883 
L 239.4 308.52 
L 240.094612 307.916797 
L 240.425922 307.392246 
L 240.984 306.936 
L 241.21645 307.166743 
L 241.217104 308.450587 
L 241.668477 308.353504 
L 241.823827 309.008708 
L 241.875765 310.372511 
L 242.204094 310.884651 
L 242.211165 311.060187 
L 242.495999 311.616 
L 242.46422 312.651655 
L 242.491578 313.231442 
L 242.811951 313.951173 
L 242.927863 313.772259 
L 242.923582 315.01316 
L 243.142348 315.530746 
L 242.985559 316.31437 
L 242.955931 316.683218 
L 243.252493 317.010667 
L 243.288 317.88 
L 243.345837 317.717472 
L 243.659321 316.351793 
L 243.741336 316.080174 
L 243.679128 315.842056 
L 243.802523 315.131555 
L 243.874363 314.223426 
L 243.91888 314.359822 
L 244.118042 313.68302 
L 244.123924 313.226225 
L 244.288675 311.942607 
L 244.368 311.616 
L 244.488201 310.767886 
L 244.483031 310.462561 
L 244.347848 310.190707 
L 244.452034 308.816364 
L 244.524112 308.772303 
L 244.659371 308.270147 
L 244.566939 308.08548 
L 244.798162 307.119187 
L 244.651556 305.898042 
L 245.010581 305.494341 
L 244.795461 304.99966 
L 244.84106 304.885509 
L 245.057905 304.59401 
L 244.874176 303.813342 
L 245.044945 302.714046 
L 245.271078 302.223472 
L 245.036591 301.506926 
L 245.356134 301.572378 
L 245.31164 301.090011 
L 245.304 300.024 
L 245.420763 299.639891 
L 245.877377 298.638095 
L 245.794157 298.86918 
L 246.299113 297.513423 
L 246.310883 297.366114 
L 246.607411 296.93143 
L 246.743999 296.136 
L 247.201675 295.30575 
L 247.854095 295.559069 
L 248.270768 294.792422 
L 248.616 294.696 
L 248.909434 295.696252 
L 249.048073 295.483238 
L 249.385134 295.896126 
L 249.620262 297.181326 
L 250.055999 297.576 
L 250.550501 297.267601 
L 250.831051 295.944944 
L 251.121047 296.221989 
L 251.209892 295.290577 
L 251.606255 295.077799 
L 252 294.264 
L 251.985131 293.422548 
L 252.225037 293.603693 
L 252.293284 292.155986 
L 252.558437 291.695943 
L 252.5655 291.349204 
L 252.692748 290.800173 
L 252.676373 289.700355 
L 252.827236 290.035545 
L 253.0675 288.724319 
L 253.00053 287.811386 
L 253.081495 287.916887 
L 253.346898 287.640719 
L 253.44 286.56 
L 253.78494 286.479672 
L 254.193694 285.092082 
L 254.364809 284.794044 
L 254.88 284.616 
L 255.382323 284.15127 
L 255.453079 283.407308 
L 255.833796 283.284605 
L 256.32 282.744 
L 256.52024 281.95738 
L 256.551655 281.396357 
L 256.612282 281.568521 
L 256.550796 279.993279 
L 256.559372 279.435144 
L 256.794577 279.797001 
L 256.723283 278.241615 
L 256.843201 278.049462 
L 256.830682 277.699088 
L 256.867233 277.52558 
L 257.254279 276.235942 
L 257.031147 275.703978 
L 257.268981 274.923557 
L 257.154375 274.414134 
L 257.385745 274.276866 
L 257.472 273.6 
L 257.588695 272.547483 
L 257.759999 272.088 
L 258.047999 374.184 
L 258.287286 373.795608 
L 258.334271 373.553447 
L 258.217087 372.797826 
L 258.218726 371.397529 
L 258.23658 371.346265 
L 258.440556 370.328571 
L 258.48452 370.194963 
L 258.450692 369.167544 
L 258.690559 368.455238 
L 258.81333 368.102526 
L 258.668093 367.25375 
L 258.84 367.2 
L 259.104084 366.183385 
L 259.479699 366.103253 
L 259.92 365.76 
L 260.164744 366.230454 
L 259.933219 367.554098 
L 260.188467 367.718998 
L 260.246474 368.389417 
L 260.443168 369.050488 
L 260.604442 369.514996 
L 260.405806 369.91639 
L 260.639999 370.8 
L 261.273899 371.180743 
L 261.466166 372.187646 
L 262.079999 372.24 
L 262.649003 371.859515 
L 263.005056 371.52818 
L 263.725744 371.797071 
L 264.24 371.16 
L 264.92601 371.813073 
L 265.310689 371.767293 
L 265.70176 371.780992 
L 266.4 372.24 
L 266.930052 372.210397 
L 267.532413 371.630782 
L 268.128706 371.080815 
L 268.791278 370.903817 
L 269.28 370.8 
L 270.012241 370.778907 
L 270.421405 371.094227 
L 270.990629 371.366336 
L 271.505488 371.615163 
L 272.16 372.24 
L 272.756257 371.941555 
L 273.148302 372.487866 
L 273.804005 371.48295 
L 274.36793 371.351886 
L 275.039999 371.52 
L 275.649124 371.493665 
L 275.994819 370.995176 
L 276.495915 370.709784 
L 277.2 370.44 
L 277.441583 370.977008 
L 277.860076 371.286784 
L 277.809404 372.32203 
L 278.208 372.96 
L 278.506818 373.327975 
L 278.567999 374.184 
L 278.711999 272.088 
L 279 272.088 
L 279.431999 374.184 
L 279.455977 373.629873 
L 279.494805 373.459421 
L 279.639552 372.868378 
L 279.571308 371.879259 
L 279.930402 371.516676 
L 279.815386 370.492782 
L 280.050457 369.556416 
L 279.967573 369.000446 
L 280.079999 368.64 
L 280.562089 367.723462 
L 280.968297 368.003726 
L 281.52 367.2 
L 281.854474 367.931804 
L 282.315324 368.682866 
L 282.546188 368.62312 
L 282.96 369.36 
L 283.560569 369.568603 
L 284.375763 369.583944 
L 285.119999 370.08 
L 285.824026 370.068933 
L 286.633317 370.144949 
L 287.279999 370.8 
L 287.985647 370.168946 
L 288.306495 370.15252 
L 289.010084 369.398772 
L 289.44 369.36 
L 289.7077 368.939842 
L 289.826475 368.290628 
L 290.237967 367.88012 
L 290.52 367.2 
L 290.749035 368.036515 
L 290.871287 368.754274 
L 290.751178 368.980215 
L 290.865537 369.421081 
L 290.855849 370.534799 
L 291.023818 371.17003 
L 290.981129 371.696453 
L 291.239999 372.24 
L 291.338481 372.606468 
L 291.443449 373.478978 
L 291.671999 374.184 
L 291.888 272.088 
L 292.319999 272.88 
L 292.264256 273.394249 
L 292.579632 273.57445 
L 292.345866 275.115357 
L 292.45435 275.447577 
L 292.772521 276.362576 
L 292.603702 276.365738 
L 292.842708 277.184833 
L 292.787851 277.46401 
L 292.698015 278.64941 
L 292.975014 279.369856 
L 292.889469 279.542254 
L 293.146181 279.851263 
L 293.039999 280.8 
L 293.014038 281.001716 
L 293.062248 281.959656 
L 293.47858 282.545792 
L 293.379001 283.530578 
L 293.499927 284.407632 
L 293.482183 284.398208 
L 293.646887 285.160727 
L 293.759999 285.84 
L 294.349869 286.674818 
L 294.733093 286.599528 
L 294.93622 287.347382 
L 295.559999 288 
L 295.933606 288.280434 
L 296.283954 288.704699 
L 296.988656 290.043471 
L 297.36 290.16 
L 298.216176 290.073191 
L 298.799999 290.376 
L 299.225915 291.26137 
L 299.914134 290.740214 
L 300.155613 291.528122 
L 300.743999 291.816 
L 301.040142 291.266279 
L 301.678688 291.409192 
L 301.994936 291.008094 
L 302.621628 290.473456 
L 303.119999 289.944 
L 303.52149 290.27578 
L 303.719857 291.052813 
L 304.437882 291.826079 
L 304.661417 292.092959 
L 305.064 292.32 
L 305.495231 291.858243 
L 305.658402 291.805163 
L 306.259775 291.18693 
L 306.440053 290.150399 
L 306.936 289.944 
L 307.366271 290.207808 
L 307.72969 290.989042 
L 308.508973 290.908165 
L 308.88 291.816 
L 309.368204 291.224008 
L 309.553594 290.948998 
L 309.957036 290.793355 
L 310.022098 290.252336 
L 310.46515 289.914269 
L 310.823999 288.936 
L 311.166644 289.665226 
L 311.468434 289.853181 
L 311.98057 290.096909 
L 312.396454 291.143426 
L 312.696 291.384 
L 312.736615 291.065323 
L 312.955842 290.454665 
L 313.072194 289.168395 
L 313.317247 289.490069 
L 313.209237 288.261423 
L 313.280643 288.311971 
L 313.664155 287.798666 
L 313.696084 286.72748 
L 313.948938 286.501068 
L 313.879148 285.900277 
L 314.133864 285.351493 
L 314.136 284.616 
L 314.751956 284.713636 
L 315.014083 285.054083 
L 315.767926 286.178033 
L 316.079999 286.56 
L 316.640838 286.010291 
L 317.48673 286.3037 
L 318.024 286.056 
L 318.313688 285.209337 
L 319.093652 285.192622 
L 319.389028 285.161206 
L 319.895999 284.184 
L 320.176342 283.912645 
L 320.360431 283.074303 
L 320.335388 282.588864 
L 320.828685 282.04062 
L 320.882111 281.465743 
L 321.270304 280.408199 
L 321.335999 279.864 
L 321.757746 280.227516 
L 322.37876 280.506705 
L 322.776 281.304 
L 322.957074 281.209254 
L 323.043835 280.075796 
L 323.229319 279.460677 
L 323.441462 278.340319 
L 323.806664 278.645289 
L 324.096799 277.966396 
L 324.216 276.984 
L 324.252196 276.260687 
L 324.739707 275.44546 
L 324.726386 275.36078 
L 325.156558 274.140801 
L 325.386189 273.932903 
L 325.56249 273.32846 
L 325.655999 272.664 
L 326.511409 272.035031 
L 327.168 272.088 
L 327.184805 273.411906 
L 327.168 272.088 
L 328.464 374.184 
L 328.679999 374.184 
L 328.666666 372.083183 
L 328.679999 374.184 
L 328.032 272.088 
L 329.544 272.304 
L 329.888296 273.179644 
L 330.340622 273.075773 
L 330.94573 273.590328 
L 331.415999 274.104 
L 332.200505 274.371612 
L 332.797399 274.219897 
L 333.286691 275.173664 
L 333.863999 275.04 
L 334.353384 275.076051 
L 335.193105 274.941822 
L 335.736 275.544 
L 335.906184 276.023996 
L 336.259352 276.748183 
L 336.509118 277.445515 
L 336.436841 277.91512 
L 336.864987 278.27342 
L 336.95896 278.7505 
L 337.176 279.864 
L 337.685638 279.968761 
L 337.96741 281.073473 
L 338.387876 281.261183 
L 338.616 282.24 
L 339.22423 282.639313 
L 339.960274 282.586393 
L 340.559999 283.176 
L 340.965504 282.492067 
L 341.145946 282.254875 
L 341.263855 281.418125 
L 341.535157 280.892017 
L 341.589479 280.429277 
L 342 279.864 
L 342.641937 279.482078 
L 342.829727 278.809765 
L 343.361632 278.808797 
L 343.943999 278.424 
L 344.429557 277.522113 
L 344.779372 277.598273 
L 345.092533 276.50225 
L 345.383999 276.48 
L 346.16486 276.829168 
L 346.823999 277.416 
L 347.350608 277.384681 
L 347.71395 278.056253 
L 348.327257 279.37926 
L 348.696 279.36 
L 349.109224 278.931516 
L 349.065827 278.334075 
L 349.283327 277.891554 
L 349.822957 276.934096 
L 349.876509 276.522827 
L 350.136 275.976 
L 350.452972 275.681135 
L 350.888705 274.571162 
L 351.144 274.104 
L 351.549932 274.879106 
L 351.961309 275.262157 
L 352.221978 275.048062 
L 352.721657 276.258228 
L 353.155591 275.829238 
L 353.52 276.696 
L 354.106956 277.424315 
L 354.731328 277.559018 
L 355.544598 276.81404 
L 355.958184 277.869162 
L 356.76 277.776 
L 357.177888 277.32825 
L 357.501128 276.693571 
L 357.837269 276.22906 
L 357.959979 275.06639 
L 358.323191 274.715088 
L 358.610623 274.494494 
L 358.92 273.96 
L 359.098592 274.226858 
L 359.388755 275.222659 
L 359.904885 275.505606 
L 360.078447 276.503839 
L 360.407682 276.951886 
L 360.506189 277.325199 
L 360.808961 277.454318 
L 361.079999 278.28 
L 361.397636 278.911571 
L 361.240481 279.821676 
L 361.717093 280.052878 
L 361.868923 280.167097 
L 361.88981 281.103445 
L 361.964905 282.233265 
L 362.145172 282.834491 
L 362.526228 282.811902 
L 362.514973 284.105059 
L 362.735999 284.256 
L 363.099299 285.098649 
L 363.405022 284.935307 
L 363.888582 285.887907 
L 364.319999 286.416 
L 364.94686 286.139243 
L 365.46419 285.057848 
L 365.821751 285.42886 
L 366.479999 284.76 
L 366.919803 285.552089 
L 367.59838 285.844615 
L 368.030313 285.515773 
L 368.539547 286.275448 
L 369.216 286.416 
L 369.846478 286.634051 
L 370.378323 287.470343 
L 370.914622 287.338325 
L 371.338947 288.338758 
L 371.879999 288.576 
L 372.422607 287.856516 
L 372.647823 287.837974 
L 373.145259 287.819022 
L 373.431316 286.486064 
L 374.039999 286.416 
L 374.70206 287.019934 
L 375.077489 287.108997 
L 375.675622 287.127722 
L 376.199999 288 
L 376.72655 288.501735 
L 376.984345 288.780298 
L 377.101274 289.0251 
L 377.659644 290.041334 
L 378.121829 289.754124 
L 378.359999 290.736 
L 378.590385 290.716445 
L 378.85273 289.330413 
L 379.338224 289.598209 
L 379.439343 288.686339 
L 379.751859 288.440377 
L 380.047742 287.472853 
L 380.52 286.92 
L 381.160759 287.051246 
L 381.799394 286.664043 
L 382.176 285.84 
L 382.366904 286.173316 
L 382.746116 286.680583 
L 382.943062 287.164838 
L 383.400554 288.067195 
L 383.625983 288.310688 
L 383.759999 289.08 
L 383.854074 288.107684 
L 384.069976 287.709091 
L 384.31547 286.822766 
L 384.680859 286.676138 
L 384.767621 285.833065 
L 384.88458 285.040852 
L 385.28114 284.52856 
L 385.415999 284.256 
L 385.441893 284.054042 
L 385.686921 282.809896 
L 385.599742 282.491438 
L 385.675553 282.428183 
L 385.716879 281.733585 
L 385.96806 280.25907 
L 386.072449 280.11019 
L 386.104049 279.148521 
L 386.370733 279.279469 
L 386.153722 278.001767 
L 386.342982 277.449845 
L 386.496 277.2 
L 386.913043 276.834989 
L 387.027908 276.614566 
L 387.337454 275.074998 
L 387.448658 274.94517 
L 387.865829 274.168592 
L 388.079999 273.96 
L 388.537601 273.346556 
L 389.087031 273.055103 
L 389.633819 273.693408 
L 390.447627 273.291589 
L 390.816 272.88 
L 391.587335 272.918598 
L 392.044624 273.758274 
L 392.735233 273.442913 
L 393.48 273.744 
L 394.336137 273.205913 
L 394.929167 273.070416 
L 395.639999 273.456 
L 395.882678 274.287219 
L 396.018063 274.687776 
L 396.294394 275.120669 
L 396.658988 275.927545 
L 396.828118 276.299431 
L 397.005359 277.122151 
L 397.295999 277.2 
L 397.549637 277.087336 
L 397.64043 275.511782 
L 397.890751 274.847499 
L 397.759136 274.348209 
L 397.995226 274.292179 
L 398.301215 273.574912 
L 398.375999 272.88 
L 398.876234 272.393622 
L 399.455999 272.088 
L 399.8736 272.088 
L 399.8736 273.883891 
L 399.8736 272.088 
L 400.0464 374.184 
L 400.521599 374.184 
L 400.521599 372.297772 
L 400.521599 374.184 
L 400.694399 272.088 
L 401.435999 272.376675 
L 402.177599 272.088 
L 402.177599 272.46776 
L 402.177599 272.088 
L 402.350399 374.184 
L 402.624 373.464 
L 403.055999 373.68 
" clip-path="url(#p6120b2907d)" style="fill: none; stroke-dasharray: 5.55,2.4; stroke-dashoffset: 0; stroke: #000000; stroke-opacity: 0.5; stroke-width: 1.5"/>
   </g>
   <g id="line2d_41">
    <path d="M 370.799999 278.856 
L 372.455999 279.144 
L 374.615999 276.984 
L 376.199999 279.36 
L 377.855999 281.52 
L 380.015999 282.096 
L 381.599999 278.856 
L 384.84 278.496 
L 385.487999 280.44 
L 386.855999 374.04 
L 389.159999 370.44 
L 390.96 371.16 
L 395.639999 370.656 
L 397.44 374.616 
L 399.24 371.52 
L 402.84 369 
" clip-path="url(#p6120b2907d)" style="fill: none; stroke: #4c72b0; stroke-opacity: 0.75; stroke-width: 1.5; stroke-linecap: round"/>
   </g>
   <g id="patch_14">
    <path d="M 72.0216 379.8504 
L 72.0216 266.4936 
" style="fill: none; stroke: #ffffff; stroke-width: 1.25; stroke-linejoin: miter; stroke-linecap: square"/>
   </g>
   <g id="patch_15">
    <path d="M 418.8744 379.8504 
L 418.8744 266.4936 
" style="fill: none; stroke: #ffffff; stroke-width: 1.25; stroke-linejoin: miter; stroke-linecap: square"/>
   </g>
   <g id="patch_16">
    <path d="M 72.0216 379.8504 
L 418.8744 379.8504 
" style="fill: none; stroke: #ffffff; stroke-width: 1.25; stroke-linejoin: miter; stroke-linecap: square"/>
   </g>
   <g id="patch_17">
    <path d="M 72.0216 266.4936 
L 418.8744 266.4936 
" style="fill: none; stroke: #ffffff; stroke-width: 1.25; stroke-linejoin: miter; stroke-linecap: square"/>
   </g>
  </g>
  <g id="text_25">
   <text style="font-size: 6px; font-family: 'DejaVu Sans', 'Liberation Sans', sans-serif; text-anchor: start; fill: #262626" x="0.6480" y="429.8400">euler_angle_sequence: sxyz</text>
  </g>
 </g>
 <defs>
  <clipPath id="paa7fc9bcef">
   <rect x="72.0216" y="12.8376" width="346.8528" height="113.6448"/>
  </clipPath>
  <clipPath id="p0d70362a3d">
   <rect x="72.0216" y="139.6296" width="346.8528" height="113.7168"/>
  </clipPath>
  <clipPath id="p6120b2907d">
   <rect x="72.0216" y="266.4936" width="346.8528" height="113.3568"/>
  </clipPath>
 </defs>
</svg>

</body></html>
